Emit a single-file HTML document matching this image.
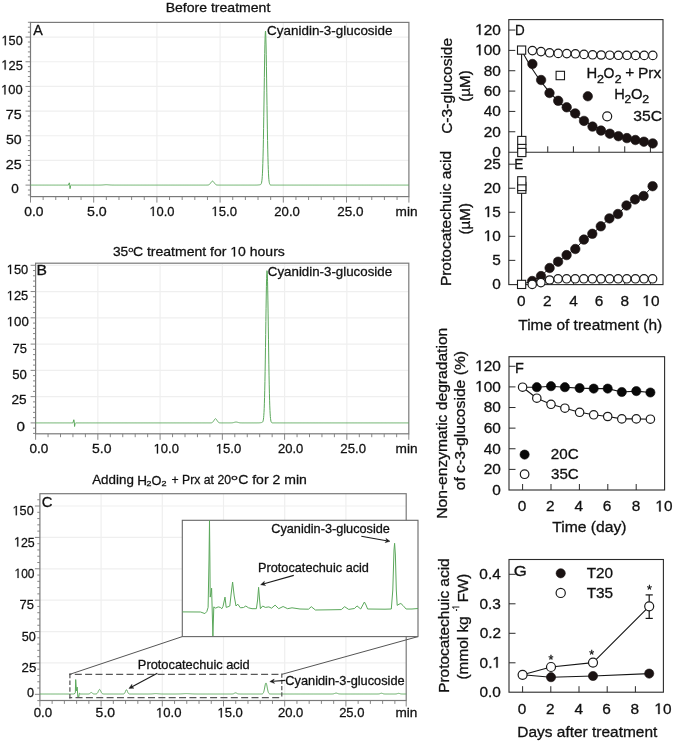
<!DOCTYPE html>
<html><head><meta charset="utf-8"><style>
html,body{margin:0;padding:0;background:#fff;}
svg{display:block;}
text{font-family:"Liberation Sans",sans-serif;stroke:#111;stroke-width:0.3px;}
.L text{stroke-width:0.28px;}
svg{will-change:transform;}
</style></head><body>
<svg width="675" height="743" viewBox="0 0 675 743">
<rect width="675" height="743" fill="#fff"/>
<g class="L">
<line x1="93.70" y1="22.40" x2="93.70" y2="196.60" stroke="#efefef" stroke-width="1.2"/>
<line x1="156.90" y1="22.40" x2="156.90" y2="196.60" stroke="#efefef" stroke-width="1.2"/>
<line x1="220.10" y1="22.40" x2="220.10" y2="196.60" stroke="#efefef" stroke-width="1.2"/>
<line x1="283.30" y1="22.40" x2="283.30" y2="196.60" stroke="#efefef" stroke-width="1.2"/>
<line x1="346.50" y1="22.40" x2="346.50" y2="196.60" stroke="#efefef" stroke-width="1.2"/>
<line x1="30.50" y1="160.43" x2="408.90" y2="160.43" stroke="#efefef" stroke-width="1.2"/>
<line x1="30.50" y1="135.76" x2="408.90" y2="135.76" stroke="#efefef" stroke-width="1.2"/>
<line x1="30.50" y1="111.10" x2="408.90" y2="111.10" stroke="#efefef" stroke-width="1.2"/>
<line x1="30.50" y1="86.43" x2="408.90" y2="86.43" stroke="#efefef" stroke-width="1.2"/>
<line x1="30.50" y1="61.76" x2="408.90" y2="61.76" stroke="#efefef" stroke-width="1.2"/>
<line x1="30.50" y1="37.09" x2="408.90" y2="37.09" stroke="#efefef" stroke-width="1.2"/>
<line x1="27.90" y1="194.97" x2="30.50" y2="194.97" stroke="#7a7a7a" stroke-width="0.9"/>
<line x1="27.90" y1="190.03" x2="30.50" y2="190.03" stroke="#7a7a7a" stroke-width="0.9"/>
<line x1="25.50" y1="185.10" x2="30.50" y2="185.10" stroke="#7a7a7a" stroke-width="0.9"/>
<line x1="27.90" y1="180.17" x2="30.50" y2="180.17" stroke="#7a7a7a" stroke-width="0.9"/>
<line x1="27.90" y1="175.23" x2="30.50" y2="175.23" stroke="#7a7a7a" stroke-width="0.9"/>
<line x1="27.90" y1="170.30" x2="30.50" y2="170.30" stroke="#7a7a7a" stroke-width="0.9"/>
<line x1="27.90" y1="165.37" x2="30.50" y2="165.37" stroke="#7a7a7a" stroke-width="0.9"/>
<line x1="25.50" y1="160.43" x2="30.50" y2="160.43" stroke="#7a7a7a" stroke-width="0.9"/>
<line x1="27.90" y1="155.50" x2="30.50" y2="155.50" stroke="#7a7a7a" stroke-width="0.9"/>
<line x1="27.90" y1="150.57" x2="30.50" y2="150.57" stroke="#7a7a7a" stroke-width="0.9"/>
<line x1="27.90" y1="145.63" x2="30.50" y2="145.63" stroke="#7a7a7a" stroke-width="0.9"/>
<line x1="27.90" y1="140.70" x2="30.50" y2="140.70" stroke="#7a7a7a" stroke-width="0.9"/>
<line x1="25.50" y1="135.76" x2="30.50" y2="135.76" stroke="#7a7a7a" stroke-width="0.9"/>
<line x1="27.90" y1="130.83" x2="30.50" y2="130.83" stroke="#7a7a7a" stroke-width="0.9"/>
<line x1="27.90" y1="125.90" x2="30.50" y2="125.90" stroke="#7a7a7a" stroke-width="0.9"/>
<line x1="27.90" y1="120.96" x2="30.50" y2="120.96" stroke="#7a7a7a" stroke-width="0.9"/>
<line x1="27.90" y1="116.03" x2="30.50" y2="116.03" stroke="#7a7a7a" stroke-width="0.9"/>
<line x1="25.50" y1="111.10" x2="30.50" y2="111.10" stroke="#7a7a7a" stroke-width="0.9"/>
<line x1="27.90" y1="106.16" x2="30.50" y2="106.16" stroke="#7a7a7a" stroke-width="0.9"/>
<line x1="27.90" y1="101.23" x2="30.50" y2="101.23" stroke="#7a7a7a" stroke-width="0.9"/>
<line x1="27.90" y1="96.30" x2="30.50" y2="96.30" stroke="#7a7a7a" stroke-width="0.9"/>
<line x1="27.90" y1="91.36" x2="30.50" y2="91.36" stroke="#7a7a7a" stroke-width="0.9"/>
<line x1="25.50" y1="86.43" x2="30.50" y2="86.43" stroke="#7a7a7a" stroke-width="0.9"/>
<line x1="27.90" y1="81.50" x2="30.50" y2="81.50" stroke="#7a7a7a" stroke-width="0.9"/>
<line x1="27.90" y1="76.56" x2="30.50" y2="76.56" stroke="#7a7a7a" stroke-width="0.9"/>
<line x1="27.90" y1="71.63" x2="30.50" y2="71.63" stroke="#7a7a7a" stroke-width="0.9"/>
<line x1="27.90" y1="66.70" x2="30.50" y2="66.70" stroke="#7a7a7a" stroke-width="0.9"/>
<line x1="25.50" y1="61.76" x2="30.50" y2="61.76" stroke="#7a7a7a" stroke-width="0.9"/>
<line x1="27.90" y1="56.83" x2="30.50" y2="56.83" stroke="#7a7a7a" stroke-width="0.9"/>
<line x1="27.90" y1="51.90" x2="30.50" y2="51.90" stroke="#7a7a7a" stroke-width="0.9"/>
<line x1="27.90" y1="46.96" x2="30.50" y2="46.96" stroke="#7a7a7a" stroke-width="0.9"/>
<line x1="27.90" y1="42.03" x2="30.50" y2="42.03" stroke="#7a7a7a" stroke-width="0.9"/>
<line x1="25.50" y1="37.09" x2="30.50" y2="37.09" stroke="#7a7a7a" stroke-width="0.9"/>
<line x1="27.90" y1="32.16" x2="30.50" y2="32.16" stroke="#7a7a7a" stroke-width="0.9"/>
<line x1="27.90" y1="27.23" x2="30.50" y2="27.23" stroke="#7a7a7a" stroke-width="0.9"/>
<line x1="27.90" y1="22.29" x2="30.50" y2="22.29" stroke="#7a7a7a" stroke-width="0.9"/>
<line x1="30.50" y1="196.60" x2="30.50" y2="202.60" stroke="#7a7a7a" stroke-width="0.9"/>
<line x1="43.14" y1="196.60" x2="43.14" y2="200.00" stroke="#7a7a7a" stroke-width="0.9"/>
<line x1="55.78" y1="196.60" x2="55.78" y2="200.00" stroke="#7a7a7a" stroke-width="0.9"/>
<line x1="68.42" y1="196.60" x2="68.42" y2="200.00" stroke="#7a7a7a" stroke-width="0.9"/>
<line x1="81.06" y1="196.60" x2="81.06" y2="200.00" stroke="#7a7a7a" stroke-width="0.9"/>
<line x1="93.70" y1="196.60" x2="93.70" y2="202.60" stroke="#7a7a7a" stroke-width="0.9"/>
<line x1="106.34" y1="196.60" x2="106.34" y2="200.00" stroke="#7a7a7a" stroke-width="0.9"/>
<line x1="118.98" y1="196.60" x2="118.98" y2="200.00" stroke="#7a7a7a" stroke-width="0.9"/>
<line x1="131.62" y1="196.60" x2="131.62" y2="200.00" stroke="#7a7a7a" stroke-width="0.9"/>
<line x1="144.26" y1="196.60" x2="144.26" y2="200.00" stroke="#7a7a7a" stroke-width="0.9"/>
<line x1="156.90" y1="196.60" x2="156.90" y2="202.60" stroke="#7a7a7a" stroke-width="0.9"/>
<line x1="169.54" y1="196.60" x2="169.54" y2="200.00" stroke="#7a7a7a" stroke-width="0.9"/>
<line x1="182.18" y1="196.60" x2="182.18" y2="200.00" stroke="#7a7a7a" stroke-width="0.9"/>
<line x1="194.82" y1="196.60" x2="194.82" y2="200.00" stroke="#7a7a7a" stroke-width="0.9"/>
<line x1="207.46" y1="196.60" x2="207.46" y2="200.00" stroke="#7a7a7a" stroke-width="0.9"/>
<line x1="220.10" y1="196.60" x2="220.10" y2="202.60" stroke="#7a7a7a" stroke-width="0.9"/>
<line x1="232.74" y1="196.60" x2="232.74" y2="200.00" stroke="#7a7a7a" stroke-width="0.9"/>
<line x1="245.38" y1="196.60" x2="245.38" y2="200.00" stroke="#7a7a7a" stroke-width="0.9"/>
<line x1="258.02" y1="196.60" x2="258.02" y2="200.00" stroke="#7a7a7a" stroke-width="0.9"/>
<line x1="270.66" y1="196.60" x2="270.66" y2="200.00" stroke="#7a7a7a" stroke-width="0.9"/>
<line x1="283.30" y1="196.60" x2="283.30" y2="202.60" stroke="#7a7a7a" stroke-width="0.9"/>
<line x1="295.94" y1="196.60" x2="295.94" y2="200.00" stroke="#7a7a7a" stroke-width="0.9"/>
<line x1="308.58" y1="196.60" x2="308.58" y2="200.00" stroke="#7a7a7a" stroke-width="0.9"/>
<line x1="321.22" y1="196.60" x2="321.22" y2="200.00" stroke="#7a7a7a" stroke-width="0.9"/>
<line x1="333.86" y1="196.60" x2="333.86" y2="200.00" stroke="#7a7a7a" stroke-width="0.9"/>
<line x1="346.50" y1="196.60" x2="346.50" y2="202.60" stroke="#7a7a7a" stroke-width="0.9"/>
<line x1="359.14" y1="196.60" x2="359.14" y2="200.00" stroke="#7a7a7a" stroke-width="0.9"/>
<line x1="371.78" y1="196.60" x2="371.78" y2="200.00" stroke="#7a7a7a" stroke-width="0.9"/>
<line x1="384.42" y1="196.60" x2="384.42" y2="200.00" stroke="#7a7a7a" stroke-width="0.9"/>
<line x1="397.06" y1="196.60" x2="397.06" y2="200.00" stroke="#7a7a7a" stroke-width="0.9"/>
<line x1="408.90" y1="196.60" x2="408.90" y2="202.60" stroke="#7a7a7a" stroke-width="0.9"/>
<rect x="30.50" y="22.40" width="378.40" height="174.20" stroke="#7a7a7a" stroke-width="1.2" fill="none"/>
<polyline points="30.50,185.10 30.69,185.10 30.88,185.10 31.07,185.10 31.26,185.10 31.45,185.10 31.64,185.10 31.82,185.10 32.01,185.10 32.20,185.10 32.39,185.10 32.58,185.10 32.77,185.10 32.96,185.10 33.15,185.10 33.34,185.10 33.53,185.10 33.72,185.10 33.91,185.10 34.09,185.10 34.28,185.10 34.47,185.10 34.66,185.10 34.85,185.10 35.04,185.10 35.23,185.10 35.42,185.10 35.61,185.10 35.80,185.10 35.99,185.10 36.18,185.10 36.37,185.10 36.55,185.10 36.74,185.10 36.93,185.10 37.12,185.10 37.31,185.10 37.50,185.10 37.69,185.10 37.88,185.10 38.07,185.10 38.26,185.10 38.45,185.10 38.64,185.10 38.82,185.10 39.01,185.10 39.20,185.10 39.39,185.10 39.58,185.10 39.77,185.10 39.96,185.10 40.15,185.10 40.34,185.10 40.53,185.10 40.72,185.10 40.91,185.10 41.10,185.10 41.28,185.10 41.47,185.10 41.66,185.10 41.85,185.10 42.04,185.10 42.23,185.10 42.42,185.10 42.61,185.10 42.80,185.10 42.99,185.10 43.18,185.10 43.37,185.10 43.55,185.10 43.74,185.10 43.93,185.10 44.12,185.10 44.31,185.10 44.50,185.10 44.69,185.10 44.88,185.10 45.07,185.10 45.26,185.10 45.45,185.10 45.64,185.10 45.83,185.10 46.01,185.10 46.20,185.10 46.39,185.10 46.58,185.10 46.77,185.10 46.96,185.10 47.15,185.10 47.34,185.10 47.53,185.10 47.72,185.10 47.91,185.10 48.10,185.10 48.28,185.10 48.47,185.10 48.66,185.10 48.85,185.10 49.04,185.10 49.23,185.10 49.42,185.10 49.61,185.10 49.80,185.10 49.99,185.10 50.18,185.10 50.37,185.10 50.56,185.10 50.74,185.10 50.93,185.10 51.12,185.10 51.31,185.10 51.50,185.10 51.69,185.10 51.88,185.10 52.07,185.10 52.26,185.10 52.45,185.10 52.64,185.10 52.83,185.10 53.01,185.10 53.20,185.10 53.39,185.10 53.58,185.10 53.77,185.10 53.96,185.10 54.15,185.10 54.34,185.10 54.53,185.10 54.72,185.10 54.91,185.10 55.10,185.10 55.29,185.10 55.47,185.10 55.66,185.10 55.85,185.10 56.04,185.10 56.23,185.10 56.42,185.10 56.61,185.10 56.80,185.10 56.99,185.10 57.18,185.10 57.37,185.10 57.56,185.10 57.74,185.10 57.93,185.10 58.12,185.10 58.31,185.10 58.50,185.10 58.69,185.10 58.88,185.10 59.07,185.10 59.26,185.10 59.45,185.10 59.64,185.10 59.83,185.10 60.02,185.10 60.20,185.10 60.39,185.10 60.58,185.10 60.77,185.10 60.96,185.10 61.15,185.10 61.34,185.10 61.53,185.10 61.72,185.10 61.91,185.10 62.10,185.10 62.29,185.10 62.47,185.10 62.66,185.10 62.85,185.10 63.04,185.10 63.23,185.10 63.42,185.10 63.61,185.10 63.80,185.10 63.99,185.10 64.18,185.10 64.37,185.10 64.56,185.10 64.75,185.10 64.93,185.10 65.12,185.10 65.31,185.10 65.50,185.10 65.69,185.10 65.88,185.10 66.07,185.10 66.26,185.10 66.45,185.10 66.64,185.10 66.83,185.10 67.02,185.10 67.20,185.10 67.39,185.10 67.58,185.10 67.77,185.10 67.96,185.10 68.15,185.10 68.34,185.10 68.42,185.10 69.30,182.83 69.68,183.92 70.06,188.65 70.57,185.69 71.20,185.10 71.37,185.10 71.56,185.10 71.75,185.10 71.93,185.10 72.12,185.10 72.31,185.10 72.50,185.10 72.69,185.10 72.88,185.10 73.07,185.10 73.26,185.10 73.45,185.10 73.64,185.10 73.83,185.10 74.02,185.10 74.21,185.10 74.39,185.10 74.58,185.10 74.77,185.10 74.96,185.10 75.15,185.10 75.34,185.10 75.53,185.10 75.72,185.10 75.91,185.10 76.10,185.10 76.29,185.10 76.48,185.10 76.66,185.10 76.85,185.10 77.04,185.10 77.23,185.10 77.42,185.10 77.61,185.10 77.80,185.10 77.99,185.10 78.18,185.10 78.37,185.10 78.56,185.10 78.75,185.10 78.94,185.10 79.12,185.10 79.31,185.10 79.50,185.10 79.69,185.10 79.88,185.10 80.07,185.10 80.26,185.10 80.45,185.10 80.64,185.10 80.83,185.10 81.02,185.10 81.21,185.10 81.39,185.10 81.58,185.10 81.77,185.10 81.96,185.10 82.15,185.10 82.34,185.10 82.53,185.10 82.72,185.10 82.91,185.10 83.10,185.10 83.29,185.10 83.48,185.10 83.67,185.10 83.85,185.10 84.04,185.10 84.23,185.10 84.42,185.10 84.61,185.10 84.80,185.10 84.99,185.10 85.18,185.10 85.37,185.10 85.56,185.10 85.75,185.10 85.94,185.10 86.12,185.10 86.31,185.10 86.50,185.10 86.69,185.10 86.88,185.10 87.07,185.10 87.26,185.10 87.45,185.10 87.64,185.10 87.83,185.10 88.02,185.10 88.21,185.10 88.40,185.10 88.58,185.10 88.77,185.10 88.96,185.10 89.15,185.10 89.34,185.10 89.53,185.10 89.72,185.10 89.91,185.10 90.10,185.10 90.29,185.10 90.48,185.10 90.67,185.10 90.85,185.10 91.04,185.10 91.23,185.10 91.42,185.10 91.61,185.10 91.80,185.10 91.99,185.10 92.18,185.10 92.37,185.10 92.56,185.10 92.75,185.10 92.94,185.10 93.13,185.10 93.31,185.10 93.50,185.10 93.69,185.10 93.88,185.10 94.07,185.10 94.26,185.10 94.45,185.10 94.64,185.10 94.83,185.10 95.02,185.10 95.21,185.10 95.40,185.10 95.58,185.10 95.77,185.10 95.96,185.10 96.15,185.10 96.34,185.10 96.53,185.10 96.72,185.10 96.91,185.10 97.10,185.10 97.29,185.10 97.48,185.10 97.67,185.10 97.86,185.10 98.04,185.10 98.23,185.10 98.42,185.10 98.61,185.10 98.80,185.10 98.99,185.09 99.18,185.09 99.37,185.09 99.56,185.09 99.75,185.09 99.94,185.08 100.13,185.08 100.31,185.08 100.50,185.07 100.69,185.07 100.88,185.06 101.07,185.06 101.26,185.05 101.45,185.04 101.64,185.03 101.83,185.02 102.02,185.01 102.21,185.00 102.40,184.98 102.59,184.97 102.77,184.95 102.96,184.94 103.15,184.92 103.34,184.90 103.53,184.89 103.72,184.87 103.91,184.85 104.10,184.83 104.29,184.82 104.48,184.80 104.67,184.78 104.86,184.77 105.04,184.75 105.23,184.74 105.42,184.73 105.61,184.72 105.80,184.71 105.99,184.71 106.18,184.71 106.37,184.71 106.56,184.71 106.75,184.71 106.94,184.72 107.13,184.72 107.32,184.73 107.50,184.75 107.69,184.76 107.88,184.77 108.07,184.79 108.26,184.80 108.45,184.82 108.64,184.84 108.83,184.86 109.02,184.87 109.21,184.89 109.40,184.91 109.59,184.93 109.77,184.94 109.96,184.96 110.15,184.97 110.34,184.99 110.53,185.00 110.72,185.01 110.91,185.02 111.10,185.03 111.29,185.04 111.48,185.05 111.67,185.06 111.86,185.06 112.05,185.07 112.23,185.07 112.42,185.08 112.61,185.08 112.80,185.08 112.99,185.09 113.18,185.09 113.37,185.09 113.56,185.09 113.75,185.09 113.94,185.10 114.13,185.10 114.32,185.10 114.50,185.10 114.69,185.10 114.88,185.10 115.07,185.10 115.26,185.10 115.45,185.10 115.64,185.10 115.83,185.10 116.02,185.10 116.21,185.10 116.40,185.10 116.59,185.10 116.78,185.10 116.96,185.10 117.15,185.10 117.34,185.10 117.53,185.10 117.72,185.10 117.91,185.10 118.10,185.10 118.29,185.10 118.48,185.10 118.67,185.10 118.86,185.10 119.05,185.10 119.23,185.10 119.42,185.10 119.61,185.10 119.80,185.10 119.99,185.10 120.18,185.10 120.37,185.10 120.56,185.10 120.75,185.10 120.94,185.10 121.13,185.10 121.32,185.10 121.51,185.10 121.69,185.10 121.88,185.10 122.07,185.10 122.26,185.10 122.45,185.10 122.64,185.10 122.83,185.10 123.02,185.10 123.21,185.10 123.40,185.10 123.59,185.10 123.78,185.10 123.96,185.10 124.15,185.10 124.34,185.10 124.53,185.10 124.72,185.10 124.91,185.10 125.10,185.10 125.29,185.10 125.48,185.10 125.67,185.10 125.86,185.10 126.05,185.10 126.24,185.10 126.42,185.10 126.61,185.10 126.80,185.10 126.99,185.10 127.18,185.10 127.37,185.10 127.56,185.10 127.75,185.10 127.94,185.10 128.13,185.10 128.32,185.10 128.51,185.10 128.69,185.10 128.88,185.10 129.07,185.10 129.26,185.10 129.45,185.10 129.64,185.10 129.83,185.10 130.02,185.10 130.21,185.10 130.40,185.10 130.59,185.10 130.78,185.10 130.97,185.10 131.15,185.10 131.34,185.10 131.53,185.10 131.72,185.10 131.91,185.10 132.10,185.10 132.29,185.10 132.48,185.10 132.67,185.10 132.86,185.10 133.05,185.10 133.24,185.10 133.42,185.10 133.61,185.10 133.80,185.10 133.99,185.10 134.18,185.10 134.37,185.10 134.56,185.10 134.75,185.10 134.94,185.10 135.13,185.10 135.32,185.10 135.51,185.10 135.70,185.10 135.88,185.10 136.07,185.10 136.26,185.10 136.45,185.10 136.64,185.10 136.83,185.10 137.02,185.10 137.21,185.10 137.40,185.10 137.59,185.10 137.78,185.10 137.97,185.10 138.15,185.10 138.34,185.10 138.53,185.10 138.72,185.10 138.91,185.10 139.10,185.10 139.29,185.10 139.48,185.10 139.67,185.10 139.86,185.10 140.05,185.10 140.24,185.10 140.43,185.10 140.61,185.10 140.80,185.10 140.99,185.10 141.18,185.10 141.37,185.10 141.56,185.10 141.75,185.10 141.94,185.10 142.13,185.10 142.32,185.10 142.51,185.10 142.70,185.10 142.88,185.10 143.07,185.10 143.26,185.10 143.45,185.10 143.64,185.10 143.83,185.10 144.02,185.10 144.21,185.10 144.40,185.10 144.59,185.10 144.78,185.10 144.97,185.10 145.16,185.10 145.34,185.10 145.53,185.10 145.72,185.10 145.91,185.10 146.10,185.10 146.29,185.10 146.48,185.10 146.67,185.10 146.86,185.10 147.05,185.10 147.24,185.10 147.43,185.10 147.61,185.10 147.80,185.10 147.99,185.10 148.18,185.10 148.37,185.10 148.56,185.10 148.75,185.10 148.94,185.10 149.13,185.10 149.32,185.10 149.51,185.10 149.70,185.10 149.89,185.10 150.07,185.10 150.26,185.10 150.45,185.10 150.64,185.10 150.83,185.10 151.02,185.10 151.21,185.10 151.40,185.10 151.59,185.10 151.78,185.10 151.97,185.10 152.16,185.10 152.34,185.10 152.53,185.10 152.72,185.10 152.91,185.10 153.10,185.10 153.29,185.10 153.48,185.10 153.67,185.10 153.86,185.10 154.05,185.10 154.24,185.10 154.43,185.10 154.62,185.10 154.80,185.10 154.99,185.10 155.18,185.10 155.37,185.10 155.56,185.10 155.75,185.10 155.94,185.10 156.13,185.10 156.32,185.10 156.51,185.10 156.70,185.10 156.89,185.10 157.07,185.10 157.26,185.10 157.45,185.10 157.64,185.10 157.83,185.10 158.02,185.10 158.21,185.10 158.40,185.10 158.59,185.10 158.78,185.10 158.97,185.10 159.16,185.10 159.35,185.10 159.53,185.10 159.72,185.10 159.91,185.10 160.10,185.10 160.29,185.10 160.48,185.10 160.67,185.10 160.86,185.10 161.05,185.10 161.24,185.10 161.43,185.10 161.62,185.10 161.80,185.10 161.99,185.10 162.18,185.10 162.37,185.10 162.56,185.10 162.75,185.10 162.94,185.10 163.13,185.10 163.32,185.10 163.51,185.10 163.70,185.10 163.89,185.10 164.08,185.10 164.26,185.10 164.45,185.10 164.64,185.10 164.83,185.10 165.02,185.10 165.21,185.10 165.40,185.10 165.59,185.10 165.78,185.10 165.97,185.10 166.16,185.10 166.35,185.10 166.53,185.10 166.72,185.10 166.91,185.10 167.10,185.10 167.29,185.10 167.48,185.10 167.67,185.10 167.86,185.10 168.05,185.10 168.24,185.10 168.43,185.10 168.62,185.10 168.81,185.10 168.99,185.10 169.18,185.10 169.37,185.10 169.56,185.10 169.75,185.10 169.94,185.10 170.13,185.10 170.32,185.10 170.51,185.10 170.70,185.10 170.89,185.10 171.08,185.10 171.26,185.10 171.45,185.10 171.64,185.10 171.83,185.10 172.02,185.10 172.21,185.10 172.40,185.10 172.59,185.10 172.78,185.10 172.97,185.10 173.16,185.10 173.35,185.10 173.54,185.10 173.72,185.10 173.91,185.10 174.10,185.10 174.29,185.10 174.48,185.10 174.67,185.10 174.86,185.10 175.05,185.10 175.24,185.10 175.43,185.10 175.62,185.10 175.81,185.10 175.99,185.10 176.18,185.10 176.37,185.10 176.56,185.10 176.75,185.10 176.94,185.10 177.13,185.10 177.32,185.10 177.51,185.10 177.70,185.10 177.89,185.10 178.08,185.10 178.27,185.10 178.45,185.10 178.64,185.10 178.83,185.10 179.02,185.10 179.21,185.10 179.40,185.10 179.59,185.10 179.78,185.10 179.97,185.10 180.16,185.10 180.35,185.10 180.54,185.10 180.72,185.10 180.91,185.10 181.10,185.10 181.29,185.10 181.48,185.10 181.67,185.10 181.86,185.10 182.05,185.10 182.24,185.10 182.43,185.10 182.62,185.10 182.81,185.10 183.00,185.10 183.18,185.10 183.37,185.10 183.56,185.10 183.75,185.10 183.94,185.10 184.13,185.10 184.32,185.10 184.51,185.10 184.70,185.10 184.89,185.10 185.08,185.10 185.27,185.10 185.45,185.10 185.64,185.10 185.83,185.10 186.02,185.10 186.21,185.10 186.40,185.10 186.59,185.10 186.78,185.10 186.97,185.10 187.16,185.10 187.35,185.10 187.54,185.10 187.73,185.10 187.91,185.10 188.10,185.10 188.29,185.10 188.48,185.10 188.67,185.10 188.86,185.10 189.05,185.10 189.24,185.10 189.43,185.10 189.62,185.10 189.81,185.10 190.00,185.10 190.18,185.10 190.37,185.10 190.56,185.10 190.75,185.10 190.94,185.10 191.13,185.10 191.32,185.10 191.51,185.10 191.70,185.10 191.89,185.10 192.08,185.10 192.27,185.10 192.46,185.10 192.64,185.10 192.83,185.10 193.02,185.10 193.21,185.10 193.40,185.10 193.59,185.10 193.78,185.10 193.97,185.10 194.16,185.10 194.35,185.10 194.54,185.10 194.73,185.10 194.91,185.10 195.10,185.10 195.29,185.10 195.48,185.10 195.67,185.10 195.86,185.10 196.05,185.10 196.24,185.10 196.43,185.10 196.62,185.10 196.81,185.10 197.00,185.10 197.19,185.10 197.37,185.10 197.56,185.10 197.75,185.10 197.94,185.10 198.13,185.10 198.32,185.10 198.51,185.10 198.70,185.10 198.89,185.10 199.08,185.10 199.27,185.10 199.46,185.10 199.64,185.10 199.83,185.10 200.02,185.10 200.21,185.10 200.40,185.10 200.59,185.10 200.78,185.10 200.97,185.10 201.16,185.10 201.35,185.10 201.54,185.10 201.73,185.10 201.92,185.10 202.10,185.10 202.29,185.10 202.48,185.10 202.67,185.10 202.86,185.10 203.05,185.10 203.24,185.10 203.43,185.10 203.62,185.10 203.81,185.10 204.00,185.10 204.19,185.10 204.37,185.10 204.56,185.10 204.75,185.10 204.94,185.10 205.13,185.10 205.32,185.10 205.51,185.10 205.70,185.10 205.89,185.10 206.08,185.10 206.27,185.10 206.46,185.10 206.65,185.09 206.83,185.09 207.02,185.09 207.21,185.08 207.40,185.07 207.59,185.06 207.78,185.04 207.97,185.01 208.16,184.98 208.35,184.94 208.54,184.89 208.73,184.82 208.92,184.74 209.10,184.64 209.29,184.52 209.48,184.38 209.67,184.22 209.86,184.03 210.05,183.82 210.24,183.59 210.43,183.34 210.62,183.07 210.81,182.80 211.00,182.53 211.19,182.26 211.38,182.00 211.56,181.76 211.75,181.56 211.94,181.39 212.13,181.26 212.32,181.18 212.51,181.15 212.70,181.18 212.89,181.25 213.08,181.38 213.27,181.54 213.46,181.75 213.65,181.98 213.83,182.24 214.02,182.51 214.21,182.78 214.40,183.06 214.59,183.32 214.78,183.57 214.97,183.81 215.16,184.02 215.35,184.21 215.54,184.37 215.73,184.51 215.92,184.64 216.11,184.74 216.29,184.82 216.48,184.89 216.67,184.94 216.86,184.98 217.05,185.01 217.24,185.04 217.43,185.05 217.62,185.07 217.81,185.08 218.00,185.08 218.19,185.09 218.38,185.09 218.56,185.10 218.75,185.10 218.94,185.10 219.13,185.10 219.32,185.10 219.51,185.10 219.70,185.10 219.89,185.10 220.08,185.10 220.27,185.10 220.46,185.10 220.65,185.10 220.84,185.10 221.02,185.10 221.21,185.10 221.40,185.10 221.59,185.10 221.78,185.10 221.97,185.10 222.16,185.10 222.35,185.10 222.54,185.10 222.73,185.10 222.92,185.10 223.11,185.10 223.29,185.10 223.48,185.10 223.67,185.10 223.86,185.10 224.05,185.10 224.24,185.10 224.43,185.10 224.62,185.10 224.81,185.10 225.00,185.10 225.19,185.10 225.38,185.10 225.57,185.10 225.75,185.10 225.94,185.10 226.13,185.10 226.32,185.10 226.51,185.10 226.70,185.10 226.89,185.10 227.08,185.10 227.27,185.10 227.46,185.10 227.65,185.10 227.84,185.10 228.02,185.10 228.21,185.10 228.40,185.10 228.59,185.10 228.78,185.10 228.97,185.10 229.16,185.10 229.35,185.10 229.54,185.10 229.73,185.10 229.92,185.10 230.11,185.10 230.30,185.10 230.48,185.10 230.67,185.10 230.86,185.10 231.05,185.10 231.24,185.10 231.43,185.10 231.62,185.10 231.81,185.10 232.00,185.10 232.19,185.10 232.38,185.10 232.57,185.10 232.75,185.10 232.94,185.10 233.13,185.10 233.32,185.10 233.51,185.10 233.70,185.10 233.89,185.10 234.08,185.10 234.27,185.10 234.46,185.10 234.65,185.10 234.84,185.10 235.03,185.10 235.21,185.10 235.40,185.10 235.59,185.10 235.78,185.10 235.97,185.10 236.16,185.10 236.35,185.10 236.54,185.10 236.73,185.10 236.92,185.10 237.11,185.10 237.30,185.10 237.48,185.10 237.67,185.10 237.86,185.10 238.05,185.10 238.24,185.10 238.43,185.10 238.62,185.10 238.81,185.10 239.00,185.10 239.19,185.10 239.38,185.10 239.57,185.10 239.76,185.10 239.94,185.10 240.13,185.10 240.32,185.10 240.51,185.10 240.70,185.10 240.89,185.10 241.08,185.10 241.27,185.10 241.46,185.10 241.65,185.10 241.84,185.10 242.03,185.10 242.21,185.10 242.40,185.10 242.59,185.10 242.78,185.10 242.97,185.10 243.16,185.10 243.35,185.10 243.54,185.10 243.73,185.10 243.92,185.10 244.11,185.10 244.30,185.10 244.49,185.10 244.67,185.10 244.86,185.10 245.05,185.10 245.24,185.10 245.43,185.10 245.62,185.10 245.81,185.10 246.00,185.10 246.19,185.10 246.38,185.10 246.57,185.10 246.76,185.10 246.94,185.10 247.13,185.10 247.32,185.10 247.51,185.10 247.70,185.10 247.89,185.10 248.08,185.10 248.27,185.10 248.46,185.10 248.65,185.10 248.84,185.10 249.03,185.10 249.22,185.10 249.40,185.10 249.59,185.10 249.78,185.10 249.97,185.10 250.16,185.10 250.35,185.10 250.54,185.10 250.73,185.10 250.92,185.10 251.11,185.10 251.30,185.10 251.49,185.10 251.67,185.10 251.86,185.10 252.05,185.10 252.24,185.10 252.43,185.10 252.62,185.10 252.81,185.10 253.00,185.10 253.19,185.10 253.38,185.10 253.57,185.10 253.76,185.10 253.95,185.10 254.13,185.10 254.32,185.10 254.51,185.10 254.70,185.10 254.89,185.10 255.08,185.10 255.27,185.10 255.46,185.10 255.65,185.09 255.84,185.09 256.03,185.09 256.22,185.09 256.40,185.08 256.59,185.08 256.78,185.07 256.97,185.07 257.16,185.06 257.35,185.05 257.54,185.04 257.73,185.02 257.92,185.01 258.11,184.99 258.30,184.98 258.49,184.96 258.68,184.93 258.86,184.91 259.05,184.89 259.24,184.86 259.43,184.84 259.62,184.81 259.81,184.78 260.00,184.74 260.19,184.70 260.38,184.64 260.57,184.56 260.76,184.44 260.95,184.26 261.13,183.98 261.32,183.56 261.51,182.93 261.70,182.03 261.89,180.73 262.08,178.93 262.27,176.47 262.46,173.19 262.65,168.94 262.84,163.54 263.03,156.87 263.22,148.84 263.41,139.42 263.59,128.68 263.78,116.78 263.97,104.03 264.16,90.81 264.35,77.63 264.54,65.06 264.73,53.71 264.92,44.17 265.11,36.98 265.30,32.55 265.49,31.15 265.68,32.85 265.86,37.57 266.05,45.01 266.24,54.76 266.43,66.26 266.62,78.93 266.81,92.16 267.00,105.37 267.19,118.08 267.38,129.90 267.57,140.55 267.76,149.87 267.95,157.80 268.14,164.37 268.32,169.67 268.51,173.85 268.70,177.06 268.89,179.47 269.08,181.24 269.27,182.51 269.46,183.39 269.65,184.00 269.84,184.40 270.03,184.67 270.22,184.84 270.41,184.94 270.59,185.01 270.78,185.05 270.97,185.07 271.16,185.08 271.35,185.09 271.54,185.10 271.73,185.10 271.92,185.10 272.11,185.10 272.30,185.10 272.49,185.10 272.68,185.10 272.87,185.10 273.05,185.10 273.24,185.10 273.43,185.10 273.62,185.10 273.81,185.10 274.00,185.10 274.19,185.10 274.38,185.10 274.57,185.10 274.76,185.10 274.95,185.10 275.14,185.10 275.32,185.10 275.51,185.10 275.70,185.10 275.89,185.10 276.08,185.10 276.27,185.10 276.46,185.10 276.65,185.10 276.84,185.10 277.03,185.10 277.22,185.10 277.41,185.10 277.60,185.10 277.78,185.10 277.97,185.10 278.16,185.10 278.35,185.10 278.54,185.10 278.73,185.10 278.92,185.10 279.11,185.10 279.30,185.10 279.49,185.10 279.68,185.10 279.87,185.10 280.05,185.10 280.24,185.10 280.43,185.10 280.62,185.10 280.81,185.10 281.00,185.10 281.19,185.10 281.38,185.10 281.57,185.10 281.76,185.10 281.95,185.10 282.14,185.10 282.33,185.10 282.51,185.10 282.70,185.10 282.89,185.10 283.08,185.10 283.27,185.10 283.46,185.10 283.65,185.10 283.84,185.10 284.03,185.10 284.22,185.10 284.41,185.10 284.60,185.10 284.78,185.10 284.97,185.10 285.16,185.10 285.35,185.10 285.54,185.10 285.73,185.10 285.92,185.10 286.11,185.10 286.30,185.10 286.49,185.10 286.68,185.10 286.87,185.10 287.06,185.10 287.24,185.10 287.43,185.10 287.62,185.10 287.81,185.10 288.00,185.10 288.19,185.10 288.38,185.10 288.57,185.10 288.76,185.10 288.95,185.10 289.14,185.10 289.33,185.10 289.51,185.10 289.70,185.10 289.89,185.10 290.08,185.10 290.27,185.10 290.46,185.10 290.65,185.10 290.84,185.10 291.03,185.10 291.22,185.10 291.41,185.10 291.60,185.10 291.79,185.10 291.97,185.10 292.16,185.10 292.35,185.10 292.54,185.10 292.73,185.10 292.92,185.10 293.11,185.10 293.30,185.10 293.49,185.10 293.68,185.10 293.87,185.10 294.06,185.10 294.24,185.10 294.43,185.10 294.62,185.10 294.81,185.10 295.00,185.10 295.19,185.10 295.38,185.10 295.57,185.10 295.76,185.10 295.95,185.10 296.14,185.10 296.33,185.10 296.52,185.10 296.70,185.10 296.89,185.10 297.08,185.10 297.27,185.10 297.46,185.10 297.65,185.10 297.84,185.10 298.03,185.10 298.22,185.10 298.41,185.10 298.60,185.10 298.79,185.10 298.97,185.10 299.16,185.10 299.35,185.10 299.54,185.10 299.73,185.10 299.92,185.10 300.11,185.10 300.30,185.10 300.49,185.10 300.68,185.10 300.87,185.10 301.06,185.10 301.25,185.10 301.43,185.10 301.62,185.10 301.81,185.10 302.00,185.10 302.19,185.10 302.38,185.10 302.57,185.10 302.76,185.10 302.95,185.10 303.14,185.10 303.33,185.10 303.52,185.10 303.70,185.10 303.89,185.10 304.08,185.10 304.27,185.10 304.46,185.10 304.65,185.10 304.84,185.10 305.03,185.10 305.22,185.10 305.41,185.10 305.60,185.10 305.79,185.10 305.98,185.10 306.16,185.10 306.35,185.10 306.54,185.10 306.73,185.10 306.92,185.10 307.11,185.10 307.30,185.10 307.49,185.10 307.68,185.10 307.87,185.10 308.06,185.10 308.25,185.10 308.43,185.10 308.62,185.10 308.81,185.10 309.00,185.10 309.19,185.10 309.38,185.10 309.57,185.10 309.76,185.10 309.95,185.10 310.14,185.10 310.33,185.10 310.52,185.10 310.71,185.10 310.89,185.10 311.08,185.10 311.27,185.10 311.46,185.10 311.65,185.10 311.84,185.10 312.03,185.10 312.22,185.10 312.41,185.10 312.60,185.10 312.79,185.10 312.98,185.10 313.16,185.10 313.35,185.10 313.54,185.10 313.73,185.10 313.92,185.10 314.11,185.10 314.30,185.10 314.49,185.10 314.68,185.10 314.87,185.10 315.06,185.10 315.25,185.10 315.44,185.10 315.62,185.10 315.81,185.10 316.00,185.10 316.19,185.10 316.38,185.10 316.57,185.10 316.76,185.10 316.95,185.10 317.14,185.10 317.33,185.10 317.52,185.10 317.71,185.10 317.89,185.10 318.08,185.10 318.27,185.10 318.46,185.10 318.65,185.10 318.84,185.10 319.03,185.10 319.22,185.10 319.41,185.10 319.60,185.10 319.79,185.10 319.98,185.10 320.17,185.10 320.35,185.10 320.54,185.10 320.73,185.10 320.92,185.10 321.11,185.10 321.30,185.10 321.49,185.10 321.68,185.10 321.87,185.10 322.06,185.10 322.25,185.10 322.44,185.10 322.62,185.10 322.81,185.10 323.00,185.10 323.19,185.10 323.38,185.10 323.57,185.10 323.76,185.10 323.95,185.10 324.14,185.10 324.33,185.10 324.52,185.10 324.71,185.10 324.90,185.10 325.08,185.10 325.27,185.10 325.46,185.10 325.65,185.10 325.84,185.10 326.03,185.10 326.22,185.10 326.41,185.10 326.60,185.10 326.79,185.10 326.98,185.10 327.17,185.10 327.35,185.10 327.54,185.10 327.73,185.10 327.92,185.10 328.11,185.10 328.30,185.10 328.49,185.10 328.68,185.10 328.87,185.10 329.06,185.10 329.25,185.10 329.44,185.10 329.63,185.10 329.81,185.10 330.00,185.10 330.19,185.10 330.38,185.10 330.57,185.10 330.76,185.10 330.95,185.10 331.14,185.10 331.33,185.10 331.52,185.10 331.71,185.10 331.90,185.10 332.08,185.10 332.27,185.10 332.46,185.10 332.65,185.10 332.84,185.10 333.03,185.10 333.22,185.10 333.41,185.10 333.60,185.10 333.79,185.10 333.98,185.10 334.17,185.10 334.36,185.10 334.54,185.10 334.73,185.10 334.92,185.10 335.11,185.10 335.30,185.10 335.49,185.10 335.68,185.10 335.87,185.10 336.06,185.10 336.25,185.10 336.44,185.10 336.63,185.10 336.81,185.10 337.00,185.10 337.19,185.10 337.38,185.10 337.57,185.10 337.76,185.10 337.95,185.10 338.14,185.10 338.33,185.10 338.52,185.10 338.71,185.10 338.90,185.10 339.09,185.10 339.27,185.10 339.46,185.10 339.65,185.10 339.84,185.10 340.03,185.10 340.22,185.10 340.41,185.10 340.60,185.10 340.79,185.10 340.98,185.10 341.17,185.10 341.36,185.10 341.54,185.10 341.73,185.10 341.92,185.10 342.11,185.10 342.30,185.10 342.49,185.10 342.68,185.10 342.87,185.10 343.06,185.10 343.25,185.10 343.44,185.10 343.63,185.10 343.82,185.10 344.00,185.10 344.19,185.10 344.38,185.10 344.57,185.10 344.76,185.10 344.95,185.10 345.14,185.10 345.33,185.10 345.52,185.10 345.71,185.10 345.90,185.10 346.09,185.10 346.27,185.10 346.46,185.10 346.65,185.10 346.84,185.10 347.03,185.10 347.22,185.10 347.41,185.10 347.60,185.10 347.79,185.10 347.98,185.10 348.17,185.10 348.36,185.10 348.55,185.10 348.73,185.10 348.92,185.10 349.11,185.10 349.30,185.10 349.49,185.10 349.68,185.10 349.87,185.10 350.06,185.10 350.25,185.10 350.44,185.10 350.63,185.10 350.82,185.10 351.00,185.10 351.19,185.10 351.38,185.10 351.57,185.10 351.76,185.10 351.95,185.10 352.14,185.10 352.33,185.10 352.52,185.10 352.71,185.10 352.90,185.10 353.09,185.10 353.28,185.10 353.46,185.10 353.65,185.10 353.84,185.10 354.03,185.10 354.22,185.10 354.41,185.10 354.60,185.10 354.79,185.10 354.98,185.10 355.17,185.10 355.36,185.10 355.55,185.10 355.73,185.10 355.92,185.10 356.11,185.10 356.30,185.10 356.49,185.10 356.68,185.10 356.87,185.10 357.06,185.10 357.25,185.10 357.44,185.10 357.63,185.10 357.82,185.10 358.01,185.10 358.19,185.10 358.38,185.10 358.57,185.10 358.76,185.10 358.95,185.10 359.14,185.10 359.33,185.10 359.52,185.10 359.71,185.10 359.90,185.10 360.09,185.10 360.28,185.10 360.46,185.10 360.65,185.10 360.84,185.10 361.03,185.10 361.22,185.10 361.41,185.10 361.60,185.10 361.79,185.10 361.98,185.10 362.17,185.10 362.36,185.10 362.55,185.10 362.74,185.10 362.92,185.10 363.11,185.10 363.30,185.10 363.49,185.10 363.68,185.10 363.87,185.10 364.06,185.10 364.25,185.10 364.44,185.10 364.63,185.10 364.82,185.10 365.01,185.10 365.19,185.10 365.38,185.10 365.57,185.10 365.76,185.10 365.95,185.10 366.14,185.10 366.33,185.10 366.52,185.10 366.71,185.10 366.90,185.10 367.09,185.10 367.28,185.10 367.47,185.10 367.65,185.10 367.84,185.10 368.03,185.10 368.22,185.10 368.41,185.10 368.60,185.10 368.79,185.10 368.98,185.10 369.17,185.10 369.36,185.10 369.55,185.10 369.74,185.10 369.92,185.10 370.11,185.10 370.30,185.10 370.49,185.10 370.68,185.10 370.87,185.10 371.06,185.10 371.25,185.10 371.44,185.10 371.63,185.10 371.82,185.10 372.01,185.10 372.20,185.10 372.38,185.10 372.57,185.10 372.76,185.10 372.95,185.10 373.14,185.10 373.33,185.10 373.52,185.10 373.71,185.10 373.90,185.10 374.09,185.10 374.28,185.10 374.47,185.10 374.65,185.10 374.84,185.10 375.03,185.10 375.22,185.10 375.41,185.10 375.60,185.10 375.79,185.10 375.98,185.10 376.17,185.10 376.36,185.10 376.55,185.10 376.74,185.10 376.93,185.10 377.11,185.10 377.30,185.10 377.49,185.10 377.68,185.10 377.87,185.10 378.06,185.10 378.25,185.10 378.44,185.10 378.63,185.10 378.82,185.10 379.01,185.10 379.20,185.10 379.38,185.10 379.57,185.10 379.76,185.10 379.95,185.10 380.14,185.10 380.33,185.10 380.52,185.10 380.71,185.10 380.90,185.10 381.09,185.10 381.28,185.10 381.47,185.10 381.66,185.10 381.84,185.10 382.03,185.10 382.22,185.10 382.41,185.10 382.60,185.10 382.79,185.10 382.98,185.10 383.17,185.10 383.36,185.10 383.55,185.10 383.74,185.10 383.93,185.10 384.11,185.10 384.30,185.10 384.49,185.10 384.68,185.10 384.87,185.10 385.06,185.10 385.25,185.10 385.44,185.10 385.63,185.10 385.82,185.10 386.01,185.10 386.20,185.10 386.39,185.10 386.57,185.10 386.76,185.10 386.95,185.10 387.14,185.10 387.33,185.10 387.52,185.10 387.71,185.10 387.90,185.10 388.09,185.10 388.28,185.10 388.47,185.10 388.66,185.10 388.84,185.10 389.03,185.10 389.22,185.10 389.41,185.10 389.60,185.10 389.79,185.10 389.98,185.10 390.17,185.10 390.36,185.10 390.55,185.10 390.74,185.10 390.93,185.10 391.12,185.10 391.30,185.10 391.49,185.10 391.68,185.10 391.87,185.10 392.06,185.10 392.25,185.10 392.44,185.10 392.63,185.10 392.82,185.10 393.01,185.10 393.20,185.10 393.39,185.10 393.57,185.10 393.76,185.10 393.95,185.10 394.14,185.10 394.33,185.10 394.52,185.10 394.71,185.10 394.90,185.10 395.09,185.10 395.28,185.10 395.47,185.10 395.66,185.10 395.85,185.10 396.03,185.10 396.22,185.10 396.41,185.10 396.60,185.10 396.79,185.10 396.98,185.10 397.17,185.10 397.36,185.10 397.55,185.10 397.74,185.10 397.93,185.10 398.12,185.10 398.30,185.10 398.49,185.10 398.68,185.10 398.87,185.10 399.06,185.10 399.25,185.10 399.44,185.10 399.63,185.10 399.82,185.10 400.01,185.10 400.20,185.10 400.39,185.10 400.58,185.10 400.76,185.10 400.95,185.10 401.14,185.10 401.33,185.10 401.52,185.10 401.71,185.10 401.90,185.10 402.09,185.10 402.28,185.10 402.47,185.10 402.66,185.10 402.85,185.10 403.03,185.10 403.22,185.10 403.41,185.10 403.60,185.10 403.79,185.10 403.98,185.10 404.17,185.10 404.36,185.10 404.55,185.10 404.74,185.10 404.93,185.10 405.12,185.10 405.31,185.10 405.49,185.10 405.68,185.10 405.87,185.10 406.06,185.10 406.25,185.10 406.44,185.10 406.63,185.10 406.82,185.10 407.01,185.10 407.20,185.10 407.39,185.10 407.58,185.10 407.76,185.10 407.95,185.10 408.14,185.10 408.33,185.10 408.52,185.10 408.71,185.10 408.90,185.10" fill="none" stroke="#5ba85b" stroke-width="1.0" stroke-linejoin="round"/>
<text x="1.55" y="45.20" font-size="13.6" textLength="21.14" lengthAdjust="spacingAndGlyphs" fill="#111"> 50</text>
<path d="M515,0 L515,1237 L197,1010 L197,1180 L530,1409 L696,1409 L696,0 Z" transform="translate(1.550,45.200) scale(0.00619,-0.00664)" fill="#111" stroke="#111" stroke-width="33.13"/>
<text x="1.33" y="69.60" font-size="13.6" textLength="21.53" lengthAdjust="spacingAndGlyphs" fill="#111"> 25</text>
<path d="M515,0 L515,1237 L197,1010 L197,1180 L530,1409 L696,1409 L696,0 Z" transform="translate(1.332,69.600) scale(0.00630,-0.00664)" fill="#111" stroke="#111" stroke-width="33.13"/>
<text x="1.13" y="94.40" font-size="13.6" textLength="21.57" lengthAdjust="spacingAndGlyphs" fill="#111"> 00</text>
<path d="M515,0 L515,1237 L197,1010 L197,1180 L530,1409 L696,1409 L696,0 Z" transform="translate(1.131,94.400) scale(0.00631,-0.00664)" fill="#111" stroke="#111" stroke-width="33.13"/>
<text x="5.88" y="119.30" font-size="13.6" textLength="15.92" lengthAdjust="spacingAndGlyphs" fill="#111">75</text>
<text x="6.04" y="144.00" font-size="13.6" textLength="15.69" lengthAdjust="spacingAndGlyphs" fill="#111">50</text>
<text x="5.88" y="168.60" font-size="13.6" textLength="15.92" lengthAdjust="spacingAndGlyphs" fill="#111">25</text>
<text x="11.36" y="192.90" font-size="13.6" textLength="7.53" lengthAdjust="spacingAndGlyphs" fill="#111">0</text>
<text x="24.25" y="216.00" font-size="13.6" textLength="19.24" lengthAdjust="spacingAndGlyphs" fill="#111">0.0</text>
<text x="87.03" y="216.00" font-size="13.6" textLength="19.77" lengthAdjust="spacingAndGlyphs" fill="#111">5.0</text>
<text x="149.43" y="216.00" font-size="13.6" textLength="25.14" lengthAdjust="spacingAndGlyphs" fill="#111"> 0.0</text>
<path d="M515,0 L515,1237 L197,1010 L197,1180 L530,1409 L696,1409 L696,0 Z" transform="translate(149.431,216.000) scale(0.00631,-0.00664)" fill="#111" stroke="#111" stroke-width="33.13"/>
<text x="211.41" y="216.00" font-size="13.6" textLength="25.56" lengthAdjust="spacingAndGlyphs" fill="#111"> 5.0</text>
<path d="M515,0 L515,1237 L197,1010 L197,1180 L530,1409 L696,1409 L696,0 Z" transform="translate(211.415,216.000) scale(0.00641,-0.00664)" fill="#111" stroke="#111" stroke-width="33.13"/>
<text x="274.34" y="216.00" font-size="13.6" textLength="25.53" lengthAdjust="spacingAndGlyphs" fill="#111">20.0</text>
<text x="337.23" y="216.00" font-size="13.6" textLength="26.26" lengthAdjust="spacingAndGlyphs" fill="#111">25.0</text>
<text x="395.61" y="216.00" font-size="13.6" textLength="21.99" lengthAdjust="spacingAndGlyphs" fill="#111">min</text>
<text x="165.68" y="12.40" font-size="13.6" textLength="104.64" lengthAdjust="spacingAndGlyphs" fill="#111">Before treatment</text>
<text x="33.30" y="34.60" font-size="14.5" textLength="9.53" lengthAdjust="spacingAndGlyphs" fill="#111">A</text>
<text x="267.13" y="34.80" font-size="13.2" textLength="125.35" lengthAdjust="spacingAndGlyphs" fill="#111">Cyanidin-3-glucoside</text>
<line x1="97.85" y1="263.20" x2="97.85" y2="433.80" stroke="#efefef" stroke-width="1.2"/>
<line x1="160.10" y1="263.20" x2="160.10" y2="433.80" stroke="#efefef" stroke-width="1.2"/>
<line x1="222.35" y1="263.20" x2="222.35" y2="433.80" stroke="#efefef" stroke-width="1.2"/>
<line x1="284.60" y1="263.20" x2="284.60" y2="433.80" stroke="#efefef" stroke-width="1.2"/>
<line x1="346.85" y1="263.20" x2="346.85" y2="433.80" stroke="#efefef" stroke-width="1.2"/>
<line x1="35.60" y1="396.63" x2="408.80" y2="396.63" stroke="#efefef" stroke-width="1.2"/>
<line x1="35.60" y1="370.37" x2="408.80" y2="370.37" stroke="#efefef" stroke-width="1.2"/>
<line x1="35.60" y1="344.10" x2="408.80" y2="344.10" stroke="#efefef" stroke-width="1.2"/>
<line x1="35.60" y1="317.83" x2="408.80" y2="317.83" stroke="#efefef" stroke-width="1.2"/>
<line x1="35.60" y1="291.56" x2="408.80" y2="291.56" stroke="#efefef" stroke-width="1.2"/>
<line x1="35.60" y1="265.29" x2="408.80" y2="265.29" stroke="#efefef" stroke-width="1.2"/>
<line x1="33.00" y1="433.41" x2="35.60" y2="433.41" stroke="#7a7a7a" stroke-width="0.9"/>
<line x1="33.00" y1="428.15" x2="35.60" y2="428.15" stroke="#7a7a7a" stroke-width="0.9"/>
<line x1="30.60" y1="422.90" x2="35.60" y2="422.90" stroke="#7a7a7a" stroke-width="0.9"/>
<line x1="33.00" y1="417.65" x2="35.60" y2="417.65" stroke="#7a7a7a" stroke-width="0.9"/>
<line x1="33.00" y1="412.39" x2="35.60" y2="412.39" stroke="#7a7a7a" stroke-width="0.9"/>
<line x1="33.00" y1="407.14" x2="35.60" y2="407.14" stroke="#7a7a7a" stroke-width="0.9"/>
<line x1="33.00" y1="401.89" x2="35.60" y2="401.89" stroke="#7a7a7a" stroke-width="0.9"/>
<line x1="30.60" y1="396.63" x2="35.60" y2="396.63" stroke="#7a7a7a" stroke-width="0.9"/>
<line x1="33.00" y1="391.38" x2="35.60" y2="391.38" stroke="#7a7a7a" stroke-width="0.9"/>
<line x1="33.00" y1="386.13" x2="35.60" y2="386.13" stroke="#7a7a7a" stroke-width="0.9"/>
<line x1="33.00" y1="380.87" x2="35.60" y2="380.87" stroke="#7a7a7a" stroke-width="0.9"/>
<line x1="33.00" y1="375.62" x2="35.60" y2="375.62" stroke="#7a7a7a" stroke-width="0.9"/>
<line x1="30.60" y1="370.37" x2="35.60" y2="370.37" stroke="#7a7a7a" stroke-width="0.9"/>
<line x1="33.00" y1="365.11" x2="35.60" y2="365.11" stroke="#7a7a7a" stroke-width="0.9"/>
<line x1="33.00" y1="359.86" x2="35.60" y2="359.86" stroke="#7a7a7a" stroke-width="0.9"/>
<line x1="33.00" y1="354.60" x2="35.60" y2="354.60" stroke="#7a7a7a" stroke-width="0.9"/>
<line x1="33.00" y1="349.35" x2="35.60" y2="349.35" stroke="#7a7a7a" stroke-width="0.9"/>
<line x1="30.60" y1="344.10" x2="35.60" y2="344.10" stroke="#7a7a7a" stroke-width="0.9"/>
<line x1="33.00" y1="338.84" x2="35.60" y2="338.84" stroke="#7a7a7a" stroke-width="0.9"/>
<line x1="33.00" y1="333.59" x2="35.60" y2="333.59" stroke="#7a7a7a" stroke-width="0.9"/>
<line x1="33.00" y1="328.34" x2="35.60" y2="328.34" stroke="#7a7a7a" stroke-width="0.9"/>
<line x1="33.00" y1="323.08" x2="35.60" y2="323.08" stroke="#7a7a7a" stroke-width="0.9"/>
<line x1="30.60" y1="317.83" x2="35.60" y2="317.83" stroke="#7a7a7a" stroke-width="0.9"/>
<line x1="33.00" y1="312.58" x2="35.60" y2="312.58" stroke="#7a7a7a" stroke-width="0.9"/>
<line x1="33.00" y1="307.32" x2="35.60" y2="307.32" stroke="#7a7a7a" stroke-width="0.9"/>
<line x1="33.00" y1="302.07" x2="35.60" y2="302.07" stroke="#7a7a7a" stroke-width="0.9"/>
<line x1="33.00" y1="296.82" x2="35.60" y2="296.82" stroke="#7a7a7a" stroke-width="0.9"/>
<line x1="30.60" y1="291.56" x2="35.60" y2="291.56" stroke="#7a7a7a" stroke-width="0.9"/>
<line x1="33.00" y1="286.31" x2="35.60" y2="286.31" stroke="#7a7a7a" stroke-width="0.9"/>
<line x1="33.00" y1="281.06" x2="35.60" y2="281.06" stroke="#7a7a7a" stroke-width="0.9"/>
<line x1="33.00" y1="275.80" x2="35.60" y2="275.80" stroke="#7a7a7a" stroke-width="0.9"/>
<line x1="33.00" y1="270.55" x2="35.60" y2="270.55" stroke="#7a7a7a" stroke-width="0.9"/>
<line x1="30.60" y1="265.29" x2="35.60" y2="265.29" stroke="#7a7a7a" stroke-width="0.9"/>
<line x1="35.60" y1="433.80" x2="35.60" y2="439.80" stroke="#7a7a7a" stroke-width="0.9"/>
<line x1="48.05" y1="433.80" x2="48.05" y2="437.20" stroke="#7a7a7a" stroke-width="0.9"/>
<line x1="60.50" y1="433.80" x2="60.50" y2="437.20" stroke="#7a7a7a" stroke-width="0.9"/>
<line x1="72.95" y1="433.80" x2="72.95" y2="437.20" stroke="#7a7a7a" stroke-width="0.9"/>
<line x1="85.40" y1="433.80" x2="85.40" y2="437.20" stroke="#7a7a7a" stroke-width="0.9"/>
<line x1="97.85" y1="433.80" x2="97.85" y2="439.80" stroke="#7a7a7a" stroke-width="0.9"/>
<line x1="110.30" y1="433.80" x2="110.30" y2="437.20" stroke="#7a7a7a" stroke-width="0.9"/>
<line x1="122.75" y1="433.80" x2="122.75" y2="437.20" stroke="#7a7a7a" stroke-width="0.9"/>
<line x1="135.20" y1="433.80" x2="135.20" y2="437.20" stroke="#7a7a7a" stroke-width="0.9"/>
<line x1="147.65" y1="433.80" x2="147.65" y2="437.20" stroke="#7a7a7a" stroke-width="0.9"/>
<line x1="160.10" y1="433.80" x2="160.10" y2="439.80" stroke="#7a7a7a" stroke-width="0.9"/>
<line x1="172.55" y1="433.80" x2="172.55" y2="437.20" stroke="#7a7a7a" stroke-width="0.9"/>
<line x1="185.00" y1="433.80" x2="185.00" y2="437.20" stroke="#7a7a7a" stroke-width="0.9"/>
<line x1="197.45" y1="433.80" x2="197.45" y2="437.20" stroke="#7a7a7a" stroke-width="0.9"/>
<line x1="209.90" y1="433.80" x2="209.90" y2="437.20" stroke="#7a7a7a" stroke-width="0.9"/>
<line x1="222.35" y1="433.80" x2="222.35" y2="439.80" stroke="#7a7a7a" stroke-width="0.9"/>
<line x1="234.80" y1="433.80" x2="234.80" y2="437.20" stroke="#7a7a7a" stroke-width="0.9"/>
<line x1="247.25" y1="433.80" x2="247.25" y2="437.20" stroke="#7a7a7a" stroke-width="0.9"/>
<line x1="259.70" y1="433.80" x2="259.70" y2="437.20" stroke="#7a7a7a" stroke-width="0.9"/>
<line x1="272.15" y1="433.80" x2="272.15" y2="437.20" stroke="#7a7a7a" stroke-width="0.9"/>
<line x1="284.60" y1="433.80" x2="284.60" y2="439.80" stroke="#7a7a7a" stroke-width="0.9"/>
<line x1="297.05" y1="433.80" x2="297.05" y2="437.20" stroke="#7a7a7a" stroke-width="0.9"/>
<line x1="309.50" y1="433.80" x2="309.50" y2="437.20" stroke="#7a7a7a" stroke-width="0.9"/>
<line x1="321.95" y1="433.80" x2="321.95" y2="437.20" stroke="#7a7a7a" stroke-width="0.9"/>
<line x1="334.40" y1="433.80" x2="334.40" y2="437.20" stroke="#7a7a7a" stroke-width="0.9"/>
<line x1="346.85" y1="433.80" x2="346.85" y2="439.80" stroke="#7a7a7a" stroke-width="0.9"/>
<line x1="359.30" y1="433.80" x2="359.30" y2="437.20" stroke="#7a7a7a" stroke-width="0.9"/>
<line x1="371.75" y1="433.80" x2="371.75" y2="437.20" stroke="#7a7a7a" stroke-width="0.9"/>
<line x1="384.20" y1="433.80" x2="384.20" y2="437.20" stroke="#7a7a7a" stroke-width="0.9"/>
<line x1="396.65" y1="433.80" x2="396.65" y2="437.20" stroke="#7a7a7a" stroke-width="0.9"/>
<line x1="408.80" y1="433.80" x2="408.80" y2="439.80" stroke="#7a7a7a" stroke-width="0.9"/>
<rect x="35.60" y="263.20" width="373.20" height="170.60" stroke="#7a7a7a" stroke-width="1.2" fill="none"/>
<polyline points="35.60,422.90 35.79,422.90 35.97,422.90 36.16,422.90 36.35,422.90 36.53,422.90 36.72,422.90 36.91,422.90 37.09,422.90 37.28,422.90 37.47,422.90 37.65,422.90 37.84,422.90 38.03,422.90 38.21,422.90 38.40,422.90 38.59,422.90 38.77,422.90 38.96,422.90 39.15,422.90 39.33,422.90 39.52,422.90 39.71,422.90 39.89,422.90 40.08,422.90 40.27,422.90 40.45,422.90 40.64,422.90 40.82,422.90 41.01,422.90 41.20,422.90 41.38,422.90 41.57,422.90 41.76,422.90 41.94,422.90 42.13,422.90 42.32,422.90 42.50,422.90 42.69,422.90 42.88,422.90 43.06,422.90 43.25,422.90 43.44,422.90 43.62,422.90 43.81,422.90 44.00,422.90 44.18,422.90 44.37,422.90 44.56,422.90 44.74,422.90 44.93,422.90 45.12,422.90 45.30,422.90 45.49,422.90 45.68,422.90 45.86,422.90 46.05,422.90 46.24,422.90 46.42,422.90 46.61,422.90 46.80,422.90 46.98,422.90 47.17,422.90 47.36,422.90 47.54,422.90 47.73,422.90 47.92,422.90 48.10,422.90 48.29,422.90 48.48,422.90 48.66,422.90 48.85,422.90 49.04,422.90 49.22,422.90 49.41,422.90 49.59,422.90 49.78,422.90 49.97,422.90 50.15,422.90 50.34,422.90 50.53,422.90 50.71,422.90 50.90,422.90 51.09,422.90 51.27,422.90 51.46,422.90 51.65,422.90 51.83,422.90 52.02,422.90 52.21,422.90 52.39,422.90 52.58,422.90 52.77,422.90 52.95,422.90 53.14,422.90 53.33,422.90 53.51,422.90 53.70,422.90 53.89,422.90 54.07,422.90 54.26,422.90 54.45,422.90 54.63,422.90 54.82,422.90 55.01,422.90 55.19,422.90 55.38,422.90 55.57,422.90 55.75,422.90 55.94,422.90 56.13,422.90 56.31,422.90 56.50,422.90 56.69,422.90 56.87,422.90 57.06,422.90 57.25,422.90 57.43,422.90 57.62,422.90 57.81,422.90 57.99,422.90 58.18,422.90 58.37,422.90 58.55,422.90 58.74,422.90 58.92,422.90 59.11,422.90 59.30,422.90 59.48,422.90 59.67,422.90 59.86,422.90 60.04,422.90 60.23,422.90 60.42,422.90 60.60,422.90 60.79,422.90 60.98,422.90 61.16,422.90 61.35,422.90 61.54,422.90 61.72,422.90 61.91,422.90 62.10,422.90 62.28,422.90 62.47,422.90 62.66,422.90 62.84,422.90 63.03,422.90 63.22,422.90 63.40,422.90 63.59,422.90 63.78,422.90 63.96,422.90 64.15,422.90 64.34,422.90 64.52,422.90 64.71,422.90 64.90,422.90 65.08,422.90 65.27,422.90 65.46,422.90 65.64,422.90 65.83,422.90 66.02,422.90 66.20,422.90 66.39,422.90 66.58,422.90 66.76,422.90 66.95,422.90 67.14,422.90 67.32,422.90 67.51,422.90 67.70,422.90 67.88,422.90 68.07,422.90 68.25,422.90 68.44,422.90 68.63,422.90 68.81,422.90 69.00,422.90 69.19,422.90 69.37,422.90 69.56,422.90 69.75,422.90 69.93,422.90 70.12,422.90 70.31,422.90 70.49,422.90 70.68,422.90 70.87,422.90 71.05,422.90 71.24,422.90 71.43,422.90 71.61,422.90 71.80,422.90 71.99,422.90 72.17,422.90 72.36,422.90 72.55,422.90 72.73,422.90 72.92,422.90 72.95,422.90 73.82,419.75 74.19,421.32 74.57,426.47 75.07,423.53 75.69,422.90 75.72,422.90 75.91,422.90 76.09,422.90 76.28,422.90 76.47,422.90 76.65,422.90 76.84,422.90 77.03,422.90 77.21,422.90 77.40,422.90 77.59,422.90 77.77,422.90 77.96,422.90 78.14,422.90 78.33,422.90 78.52,422.90 78.70,422.90 78.89,422.90 79.08,422.90 79.26,422.90 79.45,422.90 79.64,422.90 79.82,422.90 80.01,422.90 80.20,422.90 80.38,422.90 80.57,422.90 80.76,422.90 80.94,422.90 81.13,422.90 81.32,422.90 81.50,422.90 81.69,422.90 81.88,422.90 82.06,422.90 82.25,422.90 82.44,422.90 82.62,422.90 82.81,422.90 83.00,422.90 83.18,422.90 83.37,422.90 83.56,422.90 83.74,422.90 83.93,422.90 84.12,422.90 84.30,422.90 84.49,422.90 84.68,422.90 84.86,422.90 85.05,422.90 85.24,422.90 85.42,422.90 85.61,422.90 85.80,422.90 85.98,422.90 86.17,422.90 86.36,422.90 86.54,422.90 86.73,422.90 86.91,422.90 87.10,422.90 87.29,422.90 87.47,422.90 87.66,422.90 87.85,422.90 88.03,422.90 88.22,422.90 88.41,422.90 88.59,422.90 88.78,422.90 88.97,422.90 89.15,422.90 89.34,422.90 89.53,422.90 89.71,422.90 89.90,422.90 90.09,422.90 90.27,422.90 90.46,422.90 90.65,422.90 90.83,422.90 91.02,422.90 91.21,422.90 91.39,422.90 91.58,422.90 91.77,422.90 91.95,422.90 92.14,422.90 92.33,422.90 92.51,422.90 92.70,422.90 92.89,422.90 93.07,422.90 93.26,422.90 93.45,422.90 93.63,422.90 93.82,422.90 94.01,422.90 94.19,422.90 94.38,422.90 94.57,422.90 94.75,422.90 94.94,422.90 95.13,422.90 95.31,422.90 95.50,422.90 95.69,422.90 95.87,422.90 96.06,422.90 96.24,422.90 96.43,422.90 96.62,422.90 96.80,422.90 96.99,422.90 97.18,422.90 97.36,422.90 97.55,422.90 97.74,422.90 97.92,422.90 98.11,422.90 98.30,422.90 98.48,422.90 98.67,422.90 98.86,422.90 99.04,422.90 99.23,422.90 99.42,422.90 99.60,422.90 99.79,422.90 99.98,422.90 100.16,422.90 100.35,422.90 100.54,422.90 100.72,422.90 100.91,422.90 101.10,422.90 101.28,422.90 101.47,422.90 101.66,422.90 101.84,422.90 102.03,422.90 102.22,422.90 102.40,422.90 102.59,422.90 102.78,422.90 102.96,422.90 103.15,422.90 103.34,422.90 103.52,422.90 103.71,422.90 103.90,422.90 104.08,422.90 104.27,422.90 104.46,422.90 104.64,422.90 104.83,422.90 105.02,422.90 105.20,422.90 105.39,422.90 105.58,422.90 105.76,422.90 105.95,422.90 106.13,422.90 106.32,422.90 106.51,422.90 106.69,422.90 106.88,422.90 107.07,422.90 107.25,422.90 107.44,422.90 107.63,422.90 107.81,422.90 108.00,422.90 108.19,422.90 108.37,422.90 108.56,422.90 108.75,422.90 108.93,422.90 109.12,422.90 109.31,422.90 109.49,422.90 109.68,422.90 109.87,422.90 110.05,422.90 110.24,422.90 110.43,422.90 110.61,422.90 110.80,422.90 110.99,422.90 111.17,422.90 111.36,422.90 111.55,422.90 111.73,422.90 111.92,422.90 112.11,422.90 112.29,422.90 112.48,422.90 112.67,422.90 112.85,422.90 113.04,422.90 113.23,422.90 113.41,422.90 113.60,422.90 113.79,422.90 113.97,422.90 114.16,422.90 114.35,422.90 114.53,422.90 114.72,422.90 114.91,422.90 115.09,422.90 115.28,422.90 115.46,422.90 115.65,422.90 115.84,422.90 116.02,422.90 116.21,422.90 116.40,422.90 116.58,422.90 116.77,422.90 116.96,422.90 117.14,422.90 117.33,422.90 117.52,422.90 117.70,422.90 117.89,422.90 118.08,422.90 118.26,422.90 118.45,422.90 118.64,422.90 118.82,422.90 119.01,422.90 119.20,422.90 119.38,422.90 119.57,422.90 119.76,422.90 119.94,422.90 120.13,422.90 120.32,422.90 120.50,422.90 120.69,422.90 120.88,422.90 121.06,422.90 121.25,422.90 121.44,422.90 121.62,422.90 121.81,422.90 122.00,422.90 122.18,422.90 122.37,422.90 122.56,422.90 122.74,422.90 122.93,422.90 123.12,422.90 123.30,422.90 123.49,422.90 123.68,422.90 123.86,422.90 124.05,422.90 124.23,422.90 124.42,422.90 124.61,422.90 124.79,422.90 124.98,422.90 125.17,422.90 125.35,422.90 125.54,422.90 125.73,422.90 125.91,422.90 126.10,422.90 126.29,422.90 126.47,422.90 126.66,422.90 126.85,422.90 127.03,422.90 127.22,422.90 127.41,422.90 127.59,422.90 127.78,422.90 127.97,422.90 128.15,422.90 128.34,422.90 128.53,422.90 128.71,422.90 128.90,422.90 129.09,422.90 129.27,422.90 129.46,422.90 129.65,422.90 129.83,422.90 130.02,422.90 130.21,422.90 130.39,422.90 130.58,422.90 130.77,422.90 130.95,422.90 131.14,422.90 131.33,422.90 131.51,422.90 131.70,422.90 131.89,422.90 132.07,422.90 132.26,422.90 132.45,422.90 132.63,422.90 132.82,422.90 133.01,422.90 133.19,422.90 133.38,422.90 133.56,422.90 133.75,422.90 133.94,422.90 134.12,422.90 134.31,422.90 134.50,422.90 134.68,422.90 134.87,422.90 135.06,422.90 135.24,422.90 135.43,422.90 135.62,422.90 135.80,422.90 135.99,422.90 136.18,422.90 136.36,422.90 136.55,422.90 136.74,422.90 136.92,422.90 137.11,422.90 137.30,422.90 137.48,422.90 137.67,422.90 137.86,422.90 138.04,422.90 138.23,422.90 138.42,422.90 138.60,422.90 138.79,422.90 138.98,422.90 139.16,422.90 139.35,422.90 139.54,422.90 139.72,422.90 139.91,422.90 140.10,422.90 140.28,422.90 140.47,422.90 140.66,422.90 140.84,422.90 141.03,422.90 141.22,422.90 141.40,422.90 141.59,422.90 141.78,422.90 141.96,422.90 142.15,422.90 142.34,422.90 142.52,422.90 142.71,422.90 142.89,422.90 143.08,422.90 143.27,422.90 143.45,422.90 143.64,422.90 143.83,422.90 144.01,422.90 144.20,422.90 144.39,422.90 144.57,422.90 144.76,422.90 144.95,422.90 145.13,422.90 145.32,422.90 145.51,422.90 145.69,422.90 145.88,422.90 146.07,422.90 146.25,422.90 146.44,422.90 146.63,422.90 146.81,422.90 147.00,422.90 147.19,422.90 147.37,422.90 147.56,422.90 147.75,422.90 147.93,422.90 148.12,422.90 148.31,422.90 148.49,422.90 148.68,422.90 148.87,422.90 149.05,422.90 149.24,422.90 149.43,422.90 149.61,422.90 149.80,422.90 149.99,422.90 150.17,422.90 150.36,422.90 150.55,422.90 150.73,422.90 150.92,422.90 151.11,422.90 151.29,422.90 151.48,422.90 151.67,422.90 151.85,422.90 152.04,422.90 152.22,422.90 152.41,422.90 152.60,422.90 152.78,422.90 152.97,422.90 153.16,422.90 153.34,422.90 153.53,422.90 153.72,422.90 153.90,422.90 154.09,422.90 154.28,422.90 154.46,422.90 154.65,422.90 154.84,422.90 155.02,422.90 155.21,422.90 155.40,422.90 155.58,422.90 155.77,422.90 155.96,422.90 156.14,422.90 156.33,422.90 156.52,422.90 156.70,422.90 156.89,422.90 157.08,422.90 157.26,422.90 157.45,422.90 157.64,422.90 157.82,422.90 158.01,422.90 158.20,422.90 158.38,422.90 158.57,422.90 158.76,422.90 158.94,422.90 159.13,422.90 159.32,422.90 159.50,422.90 159.69,422.90 159.88,422.90 160.06,422.90 160.25,422.90 160.44,422.90 160.62,422.90 160.81,422.90 161.00,422.90 161.18,422.90 161.37,422.90 161.56,422.90 161.74,422.90 161.93,422.90 162.11,422.90 162.30,422.90 162.49,422.90 162.67,422.90 162.86,422.90 163.05,422.90 163.23,422.90 163.42,422.90 163.61,422.90 163.79,422.90 163.98,422.90 164.17,422.90 164.35,422.90 164.54,422.90 164.73,422.90 164.91,422.90 165.10,422.90 165.29,422.90 165.47,422.90 165.66,422.90 165.85,422.90 166.03,422.90 166.22,422.90 166.41,422.90 166.59,422.90 166.78,422.90 166.97,422.90 167.15,422.90 167.34,422.90 167.53,422.90 167.71,422.90 167.90,422.90 168.09,422.90 168.27,422.90 168.46,422.90 168.65,422.90 168.83,422.90 169.02,422.90 169.21,422.90 169.39,422.90 169.58,422.90 169.77,422.90 169.95,422.90 170.14,422.90 170.33,422.90 170.51,422.90 170.70,422.90 170.88,422.90 171.07,422.90 171.26,422.90 171.44,422.90 171.63,422.90 171.82,422.90 172.00,422.90 172.19,422.90 172.38,422.90 172.56,422.90 172.75,422.90 172.94,422.90 173.12,422.90 173.31,422.90 173.50,422.90 173.68,422.90 173.87,422.90 174.06,422.90 174.24,422.90 174.43,422.90 174.62,422.90 174.80,422.90 174.99,422.90 175.18,422.90 175.36,422.90 175.55,422.90 175.74,422.90 175.92,422.90 176.11,422.90 176.30,422.90 176.48,422.90 176.67,422.90 176.86,422.90 177.04,422.90 177.23,422.90 177.42,422.90 177.60,422.90 177.79,422.90 177.98,422.90 178.16,422.90 178.35,422.90 178.54,422.90 178.72,422.90 178.91,422.90 179.10,422.90 179.28,422.90 179.47,422.90 179.66,422.90 179.84,422.90 180.03,422.90 180.21,422.90 180.40,422.90 180.59,422.90 180.77,422.90 180.96,422.90 181.15,422.90 181.33,422.90 181.52,422.90 181.71,422.90 181.89,422.90 182.08,422.90 182.27,422.90 182.45,422.90 182.64,422.90 182.83,422.90 183.01,422.90 183.20,422.90 183.39,422.90 183.57,422.90 183.76,422.90 183.95,422.90 184.13,422.90 184.32,422.90 184.51,422.90 184.69,422.90 184.88,422.90 185.07,422.90 185.25,422.90 185.44,422.90 185.63,422.90 185.81,422.90 186.00,422.90 186.19,422.90 186.37,422.90 186.56,422.90 186.75,422.90 186.93,422.90 187.12,422.90 187.31,422.90 187.49,422.90 187.68,422.90 187.87,422.90 188.05,422.90 188.24,422.90 188.43,422.90 188.61,422.90 188.80,422.90 188.99,422.90 189.17,422.90 189.36,422.90 189.54,422.90 189.73,422.90 189.92,422.90 190.10,422.90 190.29,422.90 190.48,422.90 190.66,422.90 190.85,422.90 191.04,422.90 191.22,422.90 191.41,422.90 191.60,422.90 191.78,422.90 191.97,422.90 192.16,422.90 192.34,422.90 192.53,422.90 192.72,422.90 192.90,422.90 193.09,422.90 193.28,422.90 193.46,422.90 193.65,422.90 193.84,422.90 194.02,422.90 194.21,422.90 194.40,422.90 194.58,422.90 194.77,422.90 194.96,422.90 195.14,422.90 195.33,422.90 195.52,422.90 195.70,422.90 195.89,422.90 196.08,422.90 196.26,422.90 196.45,422.90 196.64,422.90 196.82,422.90 197.01,422.90 197.20,422.90 197.38,422.90 197.57,422.90 197.76,422.90 197.94,422.90 198.13,422.90 198.32,422.90 198.50,422.90 198.69,422.90 198.87,422.90 199.06,422.90 199.25,422.90 199.43,422.90 199.62,422.90 199.81,422.90 199.99,422.90 200.18,422.90 200.37,422.90 200.55,422.90 200.74,422.90 200.93,422.90 201.11,422.90 201.30,422.90 201.49,422.90 201.67,422.90 201.86,422.90 202.05,422.90 202.23,422.90 202.42,422.90 202.61,422.90 202.79,422.90 202.98,422.90 203.17,422.90 203.35,422.90 203.54,422.90 203.73,422.90 203.91,422.90 204.10,422.90 204.29,422.90 204.47,422.90 204.66,422.90 204.85,422.90 205.03,422.90 205.22,422.90 205.41,422.90 205.59,422.90 205.78,422.90 205.97,422.90 206.15,422.90 206.34,422.90 206.53,422.90 206.71,422.90 206.90,422.90 207.09,422.90 207.27,422.90 207.46,422.90 207.65,422.90 207.83,422.90 208.02,422.90 208.20,422.90 208.39,422.90 208.58,422.90 208.76,422.90 208.95,422.90 209.14,422.90 209.32,422.90 209.51,422.90 209.70,422.90 209.88,422.90 210.07,422.89 210.26,422.89 210.44,422.89 210.63,422.88 210.82,422.87 211.00,422.85 211.19,422.83 211.38,422.81 211.56,422.77 211.75,422.72 211.94,422.66 212.12,422.57 212.31,422.47 212.50,422.34 212.68,422.19 212.87,422.01 213.06,421.80 213.24,421.56 213.43,421.29 213.62,421.01 213.80,420.70 213.99,420.38 214.18,420.07 214.36,419.76 214.55,419.47 214.74,419.22 214.92,419.00 215.11,418.84 215.30,418.74 215.48,418.70 215.67,418.72 215.86,418.81 216.04,418.96 216.23,419.17 216.42,419.41 216.60,419.69 216.79,420.00 216.98,420.31 217.16,420.63 217.35,420.94 217.53,421.23 217.72,421.51 217.91,421.75 218.09,421.97 218.28,422.15 218.47,422.31 218.65,422.45 218.84,422.55 219.03,422.64 219.21,422.71 219.40,422.76 219.59,422.80 219.77,422.83 219.96,422.85 220.15,422.87 220.33,422.88 220.52,422.89 220.71,422.89 220.89,422.89 221.08,422.90 221.27,422.90 221.45,422.90 221.64,422.90 221.83,422.90 222.01,422.90 222.20,422.90 222.39,422.90 222.57,422.90 222.76,422.90 222.95,422.90 223.13,422.90 223.32,422.90 223.51,422.90 223.69,422.90 223.88,422.90 224.07,422.90 224.25,422.90 224.44,422.90 224.63,422.90 224.81,422.90 225.00,422.90 225.19,422.90 225.37,422.90 225.56,422.90 225.75,422.90 225.93,422.90 226.12,422.90 226.31,422.90 226.49,422.90 226.68,422.90 226.86,422.90 227.05,422.90 227.24,422.90 227.42,422.90 227.61,422.90 227.80,422.90 227.98,422.90 228.17,422.90 228.36,422.90 228.54,422.90 228.73,422.90 228.92,422.90 229.10,422.90 229.29,422.90 229.48,422.90 229.66,422.90 229.85,422.90 230.04,422.90 230.22,422.89 230.41,422.89 230.60,422.89 230.78,422.88 230.97,422.88 231.16,422.87 231.34,422.86 231.53,422.85 231.72,422.84 231.90,422.83 232.09,422.81 232.28,422.79 232.46,422.77 232.65,422.74 232.84,422.71 233.02,422.67 233.21,422.63 233.40,422.59 233.58,422.55 233.77,422.50 233.96,422.45 234.14,422.40 234.33,422.35 234.52,422.30 234.70,422.25 234.89,422.21 235.08,422.17 235.26,422.13 235.45,422.10 235.64,422.08 235.82,422.07 236.01,422.06 236.19,422.06 236.38,422.07 236.57,422.09 236.75,422.12 236.94,422.15 237.13,422.19 237.31,422.23 237.50,422.28 237.69,422.33 237.87,422.38 238.06,422.43 238.25,422.48 238.43,422.53 238.62,422.58 238.81,422.62 238.99,422.66 239.18,422.69 239.37,422.73 239.55,422.76 239.74,422.78 239.93,422.80 240.11,422.82 240.30,422.84 240.49,422.85 240.67,422.86 240.86,422.87 241.05,422.88 241.23,422.88 241.42,422.89 241.61,422.89 241.79,422.89 241.98,422.89 242.17,422.90 242.35,422.90 242.54,422.90 242.73,422.90 242.91,422.90 243.10,422.90 243.29,422.90 243.47,422.90 243.66,422.90 243.85,422.90 244.03,422.90 244.22,422.90 244.41,422.90 244.59,422.90 244.78,422.90 244.97,422.90 245.15,422.90 245.34,422.90 245.53,422.90 245.71,422.90 245.90,422.90 246.08,422.90 246.27,422.90 246.46,422.90 246.64,422.90 246.83,422.90 247.02,422.90 247.20,422.90 247.39,422.90 247.58,422.90 247.76,422.90 247.95,422.90 248.14,422.90 248.32,422.90 248.51,422.90 248.70,422.90 248.88,422.90 249.07,422.90 249.26,422.90 249.44,422.90 249.63,422.90 249.82,422.90 250.00,422.90 250.19,422.90 250.38,422.90 250.56,422.90 250.75,422.90 250.94,422.90 251.12,422.90 251.31,422.90 251.50,422.90 251.68,422.90 251.87,422.90 252.06,422.90 252.24,422.90 252.43,422.90 252.62,422.90 252.80,422.90 252.99,422.90 253.18,422.90 253.36,422.90 253.55,422.90 253.74,422.90 253.92,422.90 254.11,422.90 254.30,422.90 254.48,422.90 254.67,422.90 254.85,422.90 255.04,422.90 255.23,422.90 255.41,422.90 255.60,422.90 255.79,422.90 255.97,422.90 256.16,422.90 256.35,422.90 256.53,422.90 256.72,422.90 256.91,422.90 257.09,422.90 257.28,422.89 257.47,422.89 257.65,422.89 257.84,422.89 258.03,422.88 258.21,422.88 258.40,422.87 258.59,422.87 258.77,422.86 258.96,422.85 259.15,422.84 259.33,422.83 259.52,422.81 259.71,422.79 259.89,422.78 260.08,422.76 260.27,422.73 260.45,422.71 260.64,422.69 260.83,422.66 261.01,422.63 261.20,422.60 261.39,422.57 261.57,422.54 261.76,422.50 261.95,422.45 262.13,422.38 262.32,422.27 262.51,422.12 262.69,421.89 262.88,421.53 263.07,421.00 263.25,420.23 263.44,419.12 263.63,417.55 263.81,415.39 264.00,412.49 264.19,408.68 264.37,403.80 264.56,397.70 264.74,390.28 264.93,381.48 265.12,371.33 265.30,359.96 265.49,347.61 265.68,334.63 265.86,321.49 266.05,308.74 266.24,296.96 266.42,286.75 266.61,278.69 266.80,273.22 266.98,270.68 267.17,271.22 267.36,274.80 267.54,281.21 267.73,290.07 267.92,300.90 268.10,313.10 268.29,326.07 268.48,339.23 268.66,352.06 268.85,364.14 269.04,375.14 269.22,384.86 269.41,393.21 269.60,400.20 269.78,405.89 269.97,410.42 270.16,413.92 270.34,416.57 270.53,418.53 270.72,419.94 270.90,420.94 271.09,421.63 271.28,422.09 271.46,422.39 271.65,422.59 271.84,422.71 272.02,422.79 272.21,422.84 272.40,422.86 272.58,422.88 272.77,422.89 272.96,422.89 273.14,422.90 273.33,422.90 273.51,422.90 273.70,422.90 273.89,422.90 274.07,422.90 274.26,422.90 274.45,422.90 274.63,422.90 274.82,422.90 275.01,422.90 275.19,422.90 275.38,422.90 275.57,422.90 275.75,422.90 275.94,422.90 276.13,422.90 276.31,422.90 276.50,422.90 276.69,422.90 276.87,422.90 277.06,422.90 277.25,422.90 277.43,422.90 277.62,422.90 277.81,422.90 277.99,422.90 278.18,422.90 278.37,422.90 278.55,422.90 278.74,422.90 278.93,422.90 279.11,422.90 279.30,422.90 279.49,422.90 279.67,422.90 279.86,422.90 280.05,422.90 280.23,422.90 280.42,422.90 280.61,422.90 280.79,422.90 280.98,422.90 281.17,422.90 281.35,422.90 281.54,422.90 281.73,422.90 281.91,422.90 282.10,422.90 282.29,422.90 282.47,422.90 282.66,422.90 282.84,422.90 283.03,422.90 283.22,422.90 283.40,422.90 283.59,422.90 283.78,422.90 283.96,422.90 284.15,422.90 284.34,422.90 284.52,422.90 284.71,422.90 284.90,422.90 285.08,422.90 285.27,422.90 285.46,422.90 285.64,422.90 285.83,422.90 286.02,422.90 286.20,422.90 286.39,422.90 286.58,422.90 286.76,422.90 286.95,422.90 287.14,422.90 287.32,422.90 287.51,422.90 287.70,422.90 287.88,422.90 288.07,422.90 288.26,422.90 288.44,422.90 288.63,422.90 288.82,422.90 289.00,422.90 289.19,422.90 289.38,422.90 289.56,422.90 289.75,422.90 289.94,422.90 290.12,422.90 290.31,422.90 290.50,422.90 290.68,422.90 290.87,422.90 291.06,422.90 291.24,422.90 291.43,422.90 291.62,422.90 291.80,422.90 291.99,422.90 292.18,422.90 292.36,422.90 292.55,422.90 292.73,422.90 292.92,422.90 293.11,422.90 293.29,422.90 293.48,422.90 293.67,422.90 293.85,422.90 294.04,422.90 294.23,422.90 294.41,422.90 294.60,422.90 294.79,422.90 294.97,422.90 295.16,422.90 295.35,422.90 295.53,422.90 295.72,422.90 295.91,422.90 296.09,422.90 296.28,422.90 296.47,422.90 296.65,422.90 296.84,422.90 297.03,422.90 297.21,422.90 297.40,422.90 297.59,422.90 297.77,422.90 297.96,422.90 298.15,422.90 298.33,422.90 298.52,422.90 298.71,422.90 298.89,422.90 299.08,422.90 299.27,422.90 299.45,422.90 299.64,422.90 299.83,422.90 300.01,422.90 300.20,422.90 300.39,422.90 300.57,422.90 300.76,422.90 300.95,422.90 301.13,422.90 301.32,422.90 301.50,422.90 301.69,422.90 301.88,422.90 302.06,422.90 302.25,422.90 302.44,422.90 302.62,422.90 302.81,422.90 303.00,422.90 303.18,422.90 303.37,422.90 303.56,422.90 303.74,422.90 303.93,422.90 304.12,422.90 304.30,422.90 304.49,422.90 304.68,422.90 304.86,422.90 305.05,422.90 305.24,422.90 305.42,422.90 305.61,422.90 305.80,422.90 305.98,422.90 306.17,422.90 306.36,422.90 306.54,422.90 306.73,422.90 306.92,422.90 307.10,422.90 307.29,422.90 307.48,422.90 307.66,422.90 307.85,422.90 308.04,422.90 308.22,422.90 308.41,422.90 308.60,422.90 308.78,422.90 308.97,422.90 309.16,422.90 309.34,422.90 309.53,422.90 309.72,422.90 309.90,422.90 310.09,422.90 310.28,422.90 310.46,422.90 310.65,422.90 310.83,422.90 311.02,422.90 311.21,422.90 311.39,422.90 311.58,422.90 311.77,422.90 311.95,422.90 312.14,422.90 312.33,422.90 312.51,422.90 312.70,422.90 312.89,422.90 313.07,422.90 313.26,422.90 313.45,422.90 313.63,422.90 313.82,422.90 314.01,422.90 314.19,422.90 314.38,422.90 314.57,422.90 314.75,422.90 314.94,422.90 315.13,422.90 315.31,422.90 315.50,422.90 315.69,422.90 315.87,422.90 316.06,422.90 316.25,422.90 316.43,422.90 316.62,422.90 316.81,422.90 316.99,422.90 317.18,422.90 317.37,422.90 317.55,422.90 317.74,422.90 317.93,422.90 318.11,422.90 318.30,422.90 318.49,422.90 318.67,422.90 318.86,422.90 319.05,422.90 319.23,422.90 319.42,422.90 319.61,422.90 319.79,422.90 319.98,422.90 320.17,422.90 320.35,422.90 320.54,422.90 320.72,422.90 320.91,422.90 321.10,422.90 321.28,422.90 321.47,422.90 321.66,422.90 321.84,422.90 322.03,422.90 322.22,422.90 322.40,422.90 322.59,422.90 322.78,422.90 322.96,422.90 323.15,422.90 323.34,422.90 323.52,422.90 323.71,422.90 323.90,422.90 324.08,422.90 324.27,422.90 324.46,422.90 324.64,422.90 324.83,422.90 325.02,422.90 325.20,422.90 325.39,422.90 325.58,422.90 325.76,422.90 325.95,422.90 326.14,422.90 326.32,422.90 326.51,422.90 326.70,422.90 326.88,422.90 327.07,422.90 327.26,422.90 327.44,422.90 327.63,422.90 327.82,422.90 328.00,422.90 328.19,422.90 328.38,422.90 328.56,422.90 328.75,422.90 328.94,422.90 329.12,422.90 329.31,422.90 329.50,422.90 329.68,422.90 329.87,422.90 330.05,422.90 330.24,422.90 330.43,422.90 330.61,422.90 330.80,422.90 330.99,422.90 331.17,422.90 331.36,422.90 331.55,422.90 331.73,422.90 331.92,422.90 332.11,422.90 332.29,422.90 332.48,422.90 332.67,422.90 332.85,422.90 333.04,422.90 333.23,422.90 333.41,422.90 333.60,422.90 333.79,422.90 333.97,422.90 334.16,422.90 334.35,422.90 334.53,422.90 334.72,422.90 334.91,422.90 335.09,422.90 335.28,422.90 335.47,422.90 335.65,422.90 335.84,422.90 336.03,422.90 336.21,422.90 336.40,422.90 336.59,422.90 336.77,422.90 336.96,422.90 337.15,422.90 337.33,422.90 337.52,422.90 337.71,422.90 337.89,422.90 338.08,422.90 338.27,422.90 338.45,422.90 338.64,422.90 338.82,422.90 339.01,422.90 339.20,422.90 339.38,422.90 339.57,422.90 339.76,422.90 339.94,422.90 340.13,422.90 340.32,422.90 340.50,422.90 340.69,422.90 340.88,422.90 341.06,422.90 341.25,422.90 341.44,422.90 341.62,422.90 341.81,422.90 342.00,422.90 342.18,422.90 342.37,422.90 342.56,422.90 342.74,422.90 342.93,422.90 343.12,422.90 343.30,422.90 343.49,422.90 343.68,422.90 343.86,422.90 344.05,422.90 344.24,422.90 344.42,422.90 344.61,422.90 344.80,422.90 344.98,422.90 345.17,422.90 345.36,422.90 345.54,422.90 345.73,422.90 345.92,422.90 346.10,422.90 346.29,422.90 346.48,422.90 346.66,422.90 346.85,422.90 347.04,422.90 347.22,422.90 347.41,422.90 347.60,422.90 347.78,422.90 347.97,422.90 348.15,422.90 348.34,422.90 348.53,422.90 348.71,422.90 348.90,422.90 349.09,422.90 349.27,422.90 349.46,422.90 349.65,422.90 349.83,422.90 350.02,422.90 350.21,422.90 350.39,422.90 350.58,422.90 350.77,422.90 350.95,422.90 351.14,422.90 351.33,422.90 351.51,422.90 351.70,422.90 351.89,422.90 352.07,422.90 352.26,422.90 352.45,422.90 352.63,422.90 352.82,422.90 353.01,422.90 353.19,422.90 353.38,422.90 353.57,422.90 353.75,422.90 353.94,422.90 354.13,422.90 354.31,422.90 354.50,422.90 354.69,422.90 354.87,422.90 355.06,422.90 355.25,422.90 355.43,422.90 355.62,422.90 355.81,422.90 355.99,422.90 356.18,422.90 356.37,422.90 356.55,422.90 356.74,422.90 356.93,422.90 357.11,422.90 357.30,422.90 357.49,422.90 357.67,422.90 357.86,422.90 358.04,422.90 358.23,422.90 358.42,422.90 358.60,422.90 358.79,422.90 358.98,422.90 359.16,422.90 359.35,422.90 359.54,422.90 359.72,422.90 359.91,422.90 360.10,422.90 360.28,422.90 360.47,422.90 360.66,422.90 360.84,422.90 361.03,422.90 361.22,422.90 361.40,422.90 361.59,422.90 361.78,422.90 361.96,422.90 362.15,422.90 362.34,422.90 362.52,422.90 362.71,422.90 362.90,422.90 363.08,422.90 363.27,422.90 363.46,422.90 363.64,422.90 363.83,422.90 364.02,422.90 364.20,422.90 364.39,422.90 364.58,422.90 364.76,422.90 364.95,422.90 365.14,422.90 365.32,422.90 365.51,422.90 365.70,422.90 365.88,422.90 366.07,422.90 366.26,422.90 366.44,422.90 366.63,422.90 366.81,422.90 367.00,422.90 367.19,422.90 367.37,422.90 367.56,422.90 367.75,422.90 367.93,422.90 368.12,422.90 368.31,422.90 368.49,422.90 368.68,422.90 368.87,422.90 369.05,422.90 369.24,422.90 369.43,422.90 369.61,422.90 369.80,422.90 369.99,422.90 370.17,422.90 370.36,422.90 370.55,422.90 370.73,422.90 370.92,422.90 371.11,422.90 371.29,422.90 371.48,422.90 371.67,422.90 371.85,422.90 372.04,422.90 372.23,422.90 372.41,422.90 372.60,422.90 372.79,422.90 372.97,422.90 373.16,422.90 373.35,422.90 373.53,422.90 373.72,422.90 373.91,422.90 374.09,422.90 374.28,422.90 374.47,422.90 374.65,422.90 374.84,422.90 375.03,422.90 375.21,422.90 375.40,422.90 375.59,422.90 375.77,422.90 375.96,422.90 376.14,422.90 376.33,422.90 376.52,422.90 376.70,422.90 376.89,422.90 377.08,422.90 377.26,422.90 377.45,422.90 377.64,422.90 377.82,422.90 378.01,422.90 378.20,422.90 378.38,422.90 378.57,422.90 378.76,422.90 378.94,422.90 379.13,422.90 379.32,422.90 379.50,422.90 379.69,422.90 379.88,422.90 380.06,422.90 380.25,422.90 380.44,422.90 380.62,422.90 380.81,422.90 381.00,422.90 381.18,422.90 381.37,422.90 381.56,422.90 381.74,422.90 381.93,422.90 382.12,422.90 382.30,422.90 382.49,422.90 382.68,422.90 382.86,422.90 383.05,422.90 383.24,422.90 383.42,422.90 383.61,422.90 383.80,422.90 383.98,422.90 384.17,422.90 384.36,422.90 384.54,422.90 384.73,422.90 384.92,422.90 385.10,422.90 385.29,422.90 385.48,422.90 385.66,422.90 385.85,422.90 386.03,422.90 386.22,422.90 386.41,422.90 386.59,422.90 386.78,422.90 386.97,422.90 387.15,422.90 387.34,422.90 387.53,422.90 387.71,422.90 387.90,422.90 388.09,422.90 388.27,422.90 388.46,422.90 388.65,422.90 388.83,422.90 389.02,422.90 389.21,422.90 389.39,422.90 389.58,422.90 389.77,422.90 389.95,422.90 390.14,422.90 390.33,422.90 390.51,422.90 390.70,422.90 390.89,422.90 391.07,422.90 391.26,422.90 391.45,422.90 391.63,422.90 391.82,422.90 392.01,422.90 392.19,422.90 392.38,422.90 392.57,422.90 392.75,422.90 392.94,422.90 393.13,422.90 393.31,422.90 393.50,422.90 393.69,422.90 393.87,422.90 394.06,422.90 394.25,422.90 394.43,422.90 394.62,422.90 394.81,422.90 394.99,422.90 395.18,422.90 395.36,422.90 395.55,422.90 395.74,422.90 395.92,422.90 396.11,422.90 396.30,422.90 396.48,422.90 396.67,422.90 396.86,422.90 397.04,422.90 397.23,422.90 397.42,422.90 397.60,422.90 397.79,422.90 397.98,422.90 398.16,422.90 398.35,422.90 398.54,422.90 398.72,422.90 398.91,422.90 399.10,422.90 399.28,422.90 399.47,422.90 399.66,422.90 399.84,422.90 400.03,422.90 400.22,422.90 400.40,422.90 400.59,422.90 400.78,422.90 400.96,422.90 401.15,422.90 401.34,422.90 401.52,422.90 401.71,422.90 401.90,422.90 402.08,422.90 402.27,422.90 402.46,422.90 402.64,422.90 402.83,422.90 403.02,422.90 403.20,422.90 403.39,422.90 403.58,422.90 403.76,422.90 403.95,422.90 404.13,422.90 404.32,422.90 404.51,422.90 404.69,422.90 404.88,422.90 405.07,422.90 405.25,422.90 405.44,422.90 405.63,422.90 405.81,422.90 406.00,422.90 406.19,422.90 406.37,422.90 406.56,422.90 406.75,422.90 406.93,422.90 407.12,422.90 407.31,422.90 407.49,422.90 407.68,422.90 407.87,422.90 408.05,422.90 408.24,422.90 408.43,422.90 408.61,422.90 408.80,422.90" fill="none" stroke="#5ba85b" stroke-width="1.0" stroke-linejoin="round"/>
<text x="6.74" y="274.10" font-size="13.6" textLength="21.46" lengthAdjust="spacingAndGlyphs" fill="#111"> 50</text>
<path d="M515,0 L515,1237 L197,1010 L197,1180 L530,1409 L696,1409 L696,0 Z" transform="translate(6.735,274.100) scale(0.00628,-0.00664)" fill="#111" stroke="#111" stroke-width="33.13"/>
<text x="6.73" y="300.30" font-size="13.6" textLength="21.53" lengthAdjust="spacingAndGlyphs" fill="#111"> 25</text>
<path d="M515,0 L515,1237 L197,1010 L197,1180 L530,1409 L696,1409 L696,0 Z" transform="translate(6.732,300.300) scale(0.00630,-0.00664)" fill="#111" stroke="#111" stroke-width="33.13"/>
<text x="6.71" y="326.30" font-size="13.6" textLength="22.10" lengthAdjust="spacingAndGlyphs" fill="#111"> 00</text>
<path d="M515,0 L515,1237 L197,1010 L197,1180 L530,1409 L696,1409 L696,0 Z" transform="translate(6.706,326.300) scale(0.00647,-0.00664)" fill="#111" stroke="#111" stroke-width="33.13"/>
<text x="12.45" y="352.50" font-size="13.6" textLength="14.39" lengthAdjust="spacingAndGlyphs" fill="#111">75</text>
<text x="12.17" y="378.60" font-size="13.6" textLength="14.62" lengthAdjust="spacingAndGlyphs" fill="#111">50</text>
<text x="11.52" y="404.40" font-size="13.6" textLength="15.16" lengthAdjust="spacingAndGlyphs" fill="#111">25</text>
<text x="16.49" y="431.00" font-size="13.6" textLength="8.46" lengthAdjust="spacingAndGlyphs" fill="#111">0</text>
<text x="29.56" y="453.40" font-size="13.6" textLength="18.82" lengthAdjust="spacingAndGlyphs" fill="#111">0.0</text>
<text x="92.04" y="453.40" font-size="13.6" textLength="19.45" lengthAdjust="spacingAndGlyphs" fill="#111">5.0</text>
<text x="153.62" y="453.40" font-size="13.6" textLength="25.35" lengthAdjust="spacingAndGlyphs" fill="#111"> 0.0</text>
<path d="M515,0 L515,1237 L197,1010 L197,1180 L530,1409 L696,1409 L696,0 Z" transform="translate(153.623,453.400) scale(0.00636,-0.00664)" fill="#111" stroke="#111" stroke-width="33.13"/>
<text x="215.82" y="453.40" font-size="13.6" textLength="25.46" lengthAdjust="spacingAndGlyphs" fill="#111"> 5.0</text>
<path d="M515,0 L515,1237 L197,1010 L197,1180 L530,1409 L696,1409 L696,0 Z" transform="translate(215.819,453.400) scale(0.00639,-0.00664)" fill="#111" stroke="#111" stroke-width="33.13"/>
<text x="277.95" y="453.40" font-size="13.6" textLength="25.32" lengthAdjust="spacingAndGlyphs" fill="#111">20.0</text>
<text x="340.34" y="453.40" font-size="13.6" textLength="25.64" lengthAdjust="spacingAndGlyphs" fill="#111">25.0</text>
<text x="395.61" y="453.40" font-size="13.6" textLength="21.99" lengthAdjust="spacingAndGlyphs" fill="#111">min</text>
<text x="112.95" y="256.40" font-size="13.6" textLength="15.33" lengthAdjust="spacingAndGlyphs" fill="#111">35</text>
<text x="128.23" y="252.00" font-size="7.8" textLength="5.15" lengthAdjust="spacingAndGlyphs" fill="#111">o</text>
<text x="132.90" y="256.40" font-size="13.6" textLength="151.97" lengthAdjust="spacingAndGlyphs" fill="#111">C treatment for  0 hours</text>
<path d="M515,0 L515,1237 L197,1010 L197,1180 L530,1409 L696,1409 L696,0 Z" transform="translate(230.302,256.400) scale(0.00685,-0.00664)" fill="#111" stroke="#111" stroke-width="33.13"/>
<text x="36.54" y="274.80" font-size="14.0" textLength="10.47" lengthAdjust="spacingAndGlyphs" fill="#111">B</text>
<text x="267.83" y="276.00" font-size="13.2" textLength="124.24" lengthAdjust="spacingAndGlyphs" fill="#111">Cyanidin-3-glucoside</text>
<line x1="101.10" y1="493.70" x2="101.10" y2="700.50" stroke="#efefef" stroke-width="1.2"/>
<line x1="162.30" y1="493.70" x2="162.30" y2="700.50" stroke="#efefef" stroke-width="1.2"/>
<line x1="223.50" y1="493.70" x2="223.50" y2="700.50" stroke="#efefef" stroke-width="1.2"/>
<line x1="284.70" y1="493.70" x2="284.70" y2="700.50" stroke="#efefef" stroke-width="1.2"/>
<line x1="345.90" y1="493.70" x2="345.90" y2="700.50" stroke="#efefef" stroke-width="1.2"/>
<line x1="39.90" y1="662.92" x2="406.20" y2="662.92" stroke="#efefef" stroke-width="1.2"/>
<line x1="39.90" y1="631.54" x2="406.20" y2="631.54" stroke="#efefef" stroke-width="1.2"/>
<line x1="39.90" y1="600.16" x2="406.20" y2="600.16" stroke="#efefef" stroke-width="1.2"/>
<line x1="39.90" y1="568.78" x2="406.20" y2="568.78" stroke="#efefef" stroke-width="1.2"/>
<line x1="39.90" y1="537.40" x2="406.20" y2="537.40" stroke="#efefef" stroke-width="1.2"/>
<line x1="39.90" y1="506.02" x2="406.20" y2="506.02" stroke="#efefef" stroke-width="1.2"/>
<line x1="37.30" y1="700.58" x2="39.90" y2="700.58" stroke="#7a7a7a" stroke-width="0.9"/>
<line x1="34.90" y1="694.30" x2="39.90" y2="694.30" stroke="#7a7a7a" stroke-width="0.9"/>
<line x1="37.30" y1="688.02" x2="39.90" y2="688.02" stroke="#7a7a7a" stroke-width="0.9"/>
<line x1="37.30" y1="681.75" x2="39.90" y2="681.75" stroke="#7a7a7a" stroke-width="0.9"/>
<line x1="37.30" y1="675.47" x2="39.90" y2="675.47" stroke="#7a7a7a" stroke-width="0.9"/>
<line x1="37.30" y1="669.20" x2="39.90" y2="669.20" stroke="#7a7a7a" stroke-width="0.9"/>
<line x1="34.90" y1="662.92" x2="39.90" y2="662.92" stroke="#7a7a7a" stroke-width="0.9"/>
<line x1="37.30" y1="656.64" x2="39.90" y2="656.64" stroke="#7a7a7a" stroke-width="0.9"/>
<line x1="37.30" y1="650.37" x2="39.90" y2="650.37" stroke="#7a7a7a" stroke-width="0.9"/>
<line x1="37.30" y1="644.09" x2="39.90" y2="644.09" stroke="#7a7a7a" stroke-width="0.9"/>
<line x1="37.30" y1="637.82" x2="39.90" y2="637.82" stroke="#7a7a7a" stroke-width="0.9"/>
<line x1="34.90" y1="631.54" x2="39.90" y2="631.54" stroke="#7a7a7a" stroke-width="0.9"/>
<line x1="37.30" y1="625.26" x2="39.90" y2="625.26" stroke="#7a7a7a" stroke-width="0.9"/>
<line x1="37.30" y1="618.99" x2="39.90" y2="618.99" stroke="#7a7a7a" stroke-width="0.9"/>
<line x1="37.30" y1="612.71" x2="39.90" y2="612.71" stroke="#7a7a7a" stroke-width="0.9"/>
<line x1="37.30" y1="606.44" x2="39.90" y2="606.44" stroke="#7a7a7a" stroke-width="0.9"/>
<line x1="34.90" y1="600.16" x2="39.90" y2="600.16" stroke="#7a7a7a" stroke-width="0.9"/>
<line x1="37.30" y1="593.88" x2="39.90" y2="593.88" stroke="#7a7a7a" stroke-width="0.9"/>
<line x1="37.30" y1="587.61" x2="39.90" y2="587.61" stroke="#7a7a7a" stroke-width="0.9"/>
<line x1="37.30" y1="581.33" x2="39.90" y2="581.33" stroke="#7a7a7a" stroke-width="0.9"/>
<line x1="37.30" y1="575.06" x2="39.90" y2="575.06" stroke="#7a7a7a" stroke-width="0.9"/>
<line x1="34.90" y1="568.78" x2="39.90" y2="568.78" stroke="#7a7a7a" stroke-width="0.9"/>
<line x1="37.30" y1="562.50" x2="39.90" y2="562.50" stroke="#7a7a7a" stroke-width="0.9"/>
<line x1="37.30" y1="556.23" x2="39.90" y2="556.23" stroke="#7a7a7a" stroke-width="0.9"/>
<line x1="37.30" y1="549.95" x2="39.90" y2="549.95" stroke="#7a7a7a" stroke-width="0.9"/>
<line x1="37.30" y1="543.68" x2="39.90" y2="543.68" stroke="#7a7a7a" stroke-width="0.9"/>
<line x1="34.90" y1="537.40" x2="39.90" y2="537.40" stroke="#7a7a7a" stroke-width="0.9"/>
<line x1="37.30" y1="531.12" x2="39.90" y2="531.12" stroke="#7a7a7a" stroke-width="0.9"/>
<line x1="37.30" y1="524.85" x2="39.90" y2="524.85" stroke="#7a7a7a" stroke-width="0.9"/>
<line x1="37.30" y1="518.57" x2="39.90" y2="518.57" stroke="#7a7a7a" stroke-width="0.9"/>
<line x1="37.30" y1="512.30" x2="39.90" y2="512.30" stroke="#7a7a7a" stroke-width="0.9"/>
<line x1="34.90" y1="506.02" x2="39.90" y2="506.02" stroke="#7a7a7a" stroke-width="0.9"/>
<line x1="37.30" y1="499.74" x2="39.90" y2="499.74" stroke="#7a7a7a" stroke-width="0.9"/>
<line x1="39.90" y1="700.50" x2="39.90" y2="706.50" stroke="#7a7a7a" stroke-width="0.9"/>
<line x1="52.14" y1="700.50" x2="52.14" y2="703.90" stroke="#7a7a7a" stroke-width="0.9"/>
<line x1="64.38" y1="700.50" x2="64.38" y2="703.90" stroke="#7a7a7a" stroke-width="0.9"/>
<line x1="76.62" y1="700.50" x2="76.62" y2="703.90" stroke="#7a7a7a" stroke-width="0.9"/>
<line x1="88.86" y1="700.50" x2="88.86" y2="703.90" stroke="#7a7a7a" stroke-width="0.9"/>
<line x1="101.10" y1="700.50" x2="101.10" y2="706.50" stroke="#7a7a7a" stroke-width="0.9"/>
<line x1="113.34" y1="700.50" x2="113.34" y2="703.90" stroke="#7a7a7a" stroke-width="0.9"/>
<line x1="125.58" y1="700.50" x2="125.58" y2="703.90" stroke="#7a7a7a" stroke-width="0.9"/>
<line x1="137.82" y1="700.50" x2="137.82" y2="703.90" stroke="#7a7a7a" stroke-width="0.9"/>
<line x1="150.06" y1="700.50" x2="150.06" y2="703.90" stroke="#7a7a7a" stroke-width="0.9"/>
<line x1="162.30" y1="700.50" x2="162.30" y2="706.50" stroke="#7a7a7a" stroke-width="0.9"/>
<line x1="174.54" y1="700.50" x2="174.54" y2="703.90" stroke="#7a7a7a" stroke-width="0.9"/>
<line x1="186.78" y1="700.50" x2="186.78" y2="703.90" stroke="#7a7a7a" stroke-width="0.9"/>
<line x1="199.02" y1="700.50" x2="199.02" y2="703.90" stroke="#7a7a7a" stroke-width="0.9"/>
<line x1="211.26" y1="700.50" x2="211.26" y2="703.90" stroke="#7a7a7a" stroke-width="0.9"/>
<line x1="223.50" y1="700.50" x2="223.50" y2="706.50" stroke="#7a7a7a" stroke-width="0.9"/>
<line x1="235.74" y1="700.50" x2="235.74" y2="703.90" stroke="#7a7a7a" stroke-width="0.9"/>
<line x1="247.98" y1="700.50" x2="247.98" y2="703.90" stroke="#7a7a7a" stroke-width="0.9"/>
<line x1="260.22" y1="700.50" x2="260.22" y2="703.90" stroke="#7a7a7a" stroke-width="0.9"/>
<line x1="272.46" y1="700.50" x2="272.46" y2="703.90" stroke="#7a7a7a" stroke-width="0.9"/>
<line x1="284.70" y1="700.50" x2="284.70" y2="706.50" stroke="#7a7a7a" stroke-width="0.9"/>
<line x1="296.94" y1="700.50" x2="296.94" y2="703.90" stroke="#7a7a7a" stroke-width="0.9"/>
<line x1="309.18" y1="700.50" x2="309.18" y2="703.90" stroke="#7a7a7a" stroke-width="0.9"/>
<line x1="321.42" y1="700.50" x2="321.42" y2="703.90" stroke="#7a7a7a" stroke-width="0.9"/>
<line x1="333.66" y1="700.50" x2="333.66" y2="703.90" stroke="#7a7a7a" stroke-width="0.9"/>
<line x1="345.90" y1="700.50" x2="345.90" y2="706.50" stroke="#7a7a7a" stroke-width="0.9"/>
<line x1="358.14" y1="700.50" x2="358.14" y2="703.90" stroke="#7a7a7a" stroke-width="0.9"/>
<line x1="370.38" y1="700.50" x2="370.38" y2="703.90" stroke="#7a7a7a" stroke-width="0.9"/>
<line x1="382.62" y1="700.50" x2="382.62" y2="703.90" stroke="#7a7a7a" stroke-width="0.9"/>
<line x1="394.86" y1="700.50" x2="394.86" y2="703.90" stroke="#7a7a7a" stroke-width="0.9"/>
<line x1="406.20" y1="700.50" x2="406.20" y2="706.50" stroke="#7a7a7a" stroke-width="0.9"/>
<rect x="39.90" y="493.70" width="366.30" height="206.80" stroke="#7a7a7a" stroke-width="1.2" fill="none"/>
<polyline points="39.90,694.00 40.08,694.00 40.27,694.00 40.45,694.00 40.63,694.00 40.82,694.00 41.00,694.00 41.18,694.00 41.37,694.00 41.55,694.00 41.73,694.00 41.91,694.00 42.10,694.00 42.28,694.00 42.46,694.00 42.65,694.00 42.83,694.00 43.01,694.00 43.20,694.00 43.38,694.00 43.56,694.00 43.75,694.00 43.93,694.00 44.11,694.00 44.30,694.00 44.48,694.00 44.66,694.00 44.85,694.00 45.03,694.00 45.21,694.00 45.39,694.00 45.58,694.00 45.76,694.00 45.94,694.00 46.13,694.00 46.31,694.00 46.49,694.00 46.68,694.00 46.86,694.00 47.04,694.00 47.23,694.00 47.41,694.00 47.59,694.00 47.78,694.00 47.96,694.00 48.14,694.00 48.32,694.00 48.51,694.00 48.69,694.00 48.87,694.00 49.06,694.00 49.24,694.00 49.42,694.00 49.61,694.00 49.79,694.00 49.97,694.00 50.16,694.00 50.34,694.00 50.52,694.00 50.71,694.00 50.89,694.00 51.07,694.00 51.26,694.00 51.44,694.00 51.62,694.00 51.80,694.00 51.99,694.00 52.17,694.00 52.35,694.00 52.54,694.00 52.72,694.00 52.90,694.00 53.09,694.00 53.27,694.00 53.45,694.00 53.64,694.00 53.82,694.00 54.00,694.00 54.19,694.00 54.37,694.00 54.55,694.00 54.74,694.00 54.92,694.00 55.10,694.00 55.28,694.00 55.47,694.00 55.65,694.00 55.83,694.00 56.02,694.00 56.20,694.00 56.38,694.00 56.57,694.00 56.75,694.00 56.93,694.00 57.12,694.00 57.30,694.00 57.48,694.00 57.67,694.00 57.85,694.00 58.03,694.00 58.22,694.00 58.40,694.00 58.58,694.00 58.76,694.00 58.95,694.00 59.13,694.00 59.31,694.00 59.50,694.00 59.68,694.00 59.86,694.00 60.05,694.00 60.23,694.00 60.41,694.00 60.60,694.00 60.78,694.00 60.96,694.00 61.15,694.00 61.33,694.00 61.51,694.00 61.69,694.00 61.88,694.00 62.06,694.00 62.24,694.00 62.43,694.00 62.61,694.00 62.79,694.00 62.98,694.00 63.16,694.00 63.34,694.00 63.53,694.00 63.71,694.00 63.89,694.00 64.08,694.00 64.26,694.00 64.44,694.00 64.63,694.00 64.81,694.00 64.99,694.00 65.17,694.00 65.36,694.00 65.54,694.00 65.72,694.00 65.91,694.00 66.09,694.00 66.27,694.00 66.46,694.00 66.64,694.00 66.82,694.00 67.01,694.00 67.19,694.00 67.37,694.00 67.56,694.00 67.74,694.00 67.92,694.00 68.11,694.00 68.29,694.00 68.47,694.00 68.65,694.00 68.84,694.00 69.02,694.00 69.20,694.00 69.39,694.00 69.57,694.00 69.75,694.00 69.94,694.00 70.12,694.00 70.30,694.00 70.49,694.00 70.67,694.00 70.85,694.00 71.04,694.00 71.22,694.00 71.40,694.00 71.58,694.00 71.77,694.00 71.95,694.00 72.13,694.00 72.32,694.00 72.50,694.00 72.68,694.00 72.87,694.00 73.05,694.00 73.23,694.00 73.42,694.00 73.60,694.00 73.78,694.00 73.97,694.00 74.15,694.00 74.23,694.00 75.33,692.74 75.70,679.57 76.43,690.86 77.17,687.10 77.91,697.51 78.64,697.26 79.38,693.25 80.60,694.00 80.74,694.00 80.93,694.00 81.11,694.00 81.29,694.00 81.48,694.00 81.66,694.00 81.84,694.00 82.02,694.00 82.21,694.00 82.39,694.00 82.57,694.00 82.76,694.00 82.94,694.00 83.12,694.00 83.31,694.00 83.49,694.00 83.67,694.00 83.86,694.00 84.04,694.00 84.22,694.00 84.41,694.00 84.59,694.00 84.77,694.00 84.95,694.00 85.14,694.00 85.32,694.00 85.50,694.00 85.69,694.00 85.87,694.00 86.05,694.00 86.24,694.00 86.42,694.00 86.60,694.00 86.79,694.00 86.97,694.00 87.15,694.00 87.34,694.00 87.52,694.00 87.70,694.00 87.89,694.00 88.07,693.99 88.25,693.99 88.43,693.98 88.62,693.96 88.80,693.94 88.98,693.90 89.17,693.85 89.35,693.78 89.53,693.69 89.72,693.57 89.90,693.43 90.08,693.28 90.27,693.11 90.45,692.94 90.63,692.78 90.82,692.65 91.00,692.55 91.18,692.50 91.37,692.50 91.55,692.55 91.73,692.65 91.91,692.79 92.10,692.95 92.28,693.12 92.46,693.28 92.65,693.44 92.83,693.58 93.01,693.69 93.20,693.78 93.38,693.85 93.56,693.90 93.75,693.94 93.93,693.96 94.11,693.98 94.30,693.99 94.48,693.99 94.66,693.99 94.84,694.00 95.03,693.99 95.21,693.99 95.39,693.99 95.58,693.98 95.76,693.97 95.94,693.95 96.13,693.92 96.31,693.88 96.49,693.82 96.68,693.74 96.86,693.63 97.04,693.49 97.23,693.31 97.41,693.09 97.59,692.83 97.78,692.52 97.96,692.17 98.14,691.79 98.32,691.38 98.51,690.97 98.69,690.58 98.87,690.22 99.06,689.91 99.24,689.68 99.42,689.53 99.61,689.48 99.79,689.53 99.97,689.68 100.16,689.91 100.34,690.22 100.52,690.58 100.71,690.98 100.89,691.39 101.07,691.79 101.26,692.17 101.44,692.52 101.62,692.83 101.80,693.09 101.99,693.32 102.17,693.49 102.35,693.63 102.54,693.74 102.72,693.82 102.90,693.88 103.09,693.92 103.27,693.95 103.45,693.97 103.64,693.98 103.82,693.99 104.00,693.99 104.19,694.00 104.37,694.00 104.55,694.00 104.74,694.00 104.92,694.00 105.10,694.00 105.28,694.00 105.47,694.00 105.65,694.00 105.83,694.00 106.02,694.00 106.20,694.00 106.38,694.00 106.57,694.00 106.75,694.00 106.93,694.00 107.12,694.00 107.30,694.00 107.48,694.00 107.67,694.00 107.85,694.00 108.03,694.00 108.21,694.00 108.40,694.00 108.58,694.00 108.76,694.00 108.95,694.00 109.13,694.00 109.31,694.00 109.50,694.00 109.68,694.00 109.86,694.00 110.05,694.00 110.23,694.00 110.41,694.00 110.60,694.00 110.78,694.00 110.96,694.00 111.15,694.00 111.33,694.00 111.51,694.00 111.69,694.00 111.88,694.00 112.06,694.00 112.24,694.00 112.43,694.00 112.61,694.00 112.79,694.00 112.98,694.00 113.16,694.00 113.34,694.00 113.53,694.00 113.71,694.00 113.89,694.00 114.08,694.00 114.26,694.00 114.44,694.00 114.63,694.00 114.81,694.00 114.99,694.00 115.17,694.00 115.36,694.00 115.54,694.00 115.72,694.00 115.91,694.00 116.09,694.00 116.27,694.00 116.46,694.00 116.64,694.00 116.82,694.00 117.01,694.00 117.19,694.00 117.37,694.00 117.56,694.00 117.74,694.00 117.92,694.00 118.11,694.00 118.29,694.00 118.47,694.00 118.65,694.00 118.84,694.00 119.02,694.00 119.20,694.00 119.39,694.00 119.57,694.00 119.75,694.00 119.94,694.00 120.12,694.00 120.30,694.00 120.49,694.00 120.67,694.00 120.85,694.00 121.04,694.00 121.22,694.00 121.40,694.00 121.58,694.00 121.77,694.00 121.95,694.00 122.13,694.00 122.32,694.00 122.50,694.00 122.68,694.00 122.87,693.99 123.05,693.99 123.23,693.98 123.42,693.96 123.60,693.94 123.78,693.90 123.97,693.83 124.15,693.73 124.33,693.59 124.52,693.40 124.70,693.14 124.88,692.82 125.06,692.44 125.25,692.00 125.43,691.53 125.61,691.05 125.80,690.59 125.98,690.20 126.16,689.92 126.35,689.76 126.53,689.74 126.71,689.88 126.90,690.14 127.08,690.51 127.26,690.96 127.45,691.44 127.63,691.91 127.81,692.36 128.00,692.76 128.18,693.09 128.36,693.35 128.54,693.56 128.73,693.71 128.91,693.81 129.09,693.89 129.28,693.93 129.46,693.96 129.64,693.98 129.83,693.99 130.01,693.99 130.19,694.00 130.38,694.00 130.56,694.00 130.74,694.00 130.93,694.00 131.11,694.00 131.29,694.00 131.47,694.00 131.66,694.00 131.84,694.00 132.02,694.00 132.21,694.00 132.39,694.00 132.57,694.00 132.76,694.00 132.94,694.00 133.12,694.00 133.31,694.00 133.49,694.00 133.67,694.00 133.86,694.00 134.04,694.00 134.22,694.00 134.41,694.00 134.59,694.00 134.77,694.00 134.95,694.00 135.14,694.00 135.32,694.00 135.50,694.00 135.69,694.00 135.87,694.00 136.05,694.00 136.24,694.00 136.42,694.00 136.60,694.00 136.79,694.00 136.97,694.00 137.15,694.00 137.34,694.00 137.52,694.00 137.70,694.00 137.89,694.00 138.07,694.00 138.25,694.00 138.43,694.00 138.62,694.00 138.80,694.00 138.98,694.00 139.17,694.00 139.35,694.00 139.53,694.00 139.72,694.00 139.90,694.00 140.08,694.00 140.27,694.00 140.45,694.00 140.63,694.00 140.82,694.00 141.00,694.00 141.18,694.00 141.37,694.00 141.55,694.00 141.73,694.00 141.91,694.00 142.10,694.00 142.28,694.00 142.46,694.00 142.65,694.00 142.83,694.00 143.01,694.00 143.20,694.00 143.38,694.00 143.56,694.00 143.75,694.00 143.93,694.00 144.11,694.00 144.30,694.00 144.48,694.00 144.66,694.00 144.84,694.00 145.03,694.00 145.21,694.00 145.39,694.00 145.58,694.00 145.76,694.00 145.94,694.00 146.13,694.00 146.31,694.00 146.49,694.00 146.68,694.00 146.86,694.00 147.04,694.00 147.23,694.00 147.41,694.00 147.59,694.00 147.78,694.00 147.96,694.00 148.14,694.00 148.32,694.00 148.51,694.00 148.69,693.99 148.87,693.99 149.06,693.99 149.24,693.99 149.42,693.99 149.61,693.99 149.79,693.98 149.97,693.98 150.16,693.98 150.34,693.97 150.52,693.97 150.71,693.96 150.89,693.95 151.07,693.94 151.26,693.94 151.44,693.93 151.62,693.92 151.80,693.91 151.99,693.89 152.17,693.88 152.35,693.87 152.54,693.85 152.72,693.84 152.90,693.82 153.09,693.80 153.27,693.79 153.45,693.77 153.64,693.75 153.82,693.74 154.00,693.72 154.19,693.70 154.37,693.69 154.55,693.67 154.74,693.66 154.92,693.65 155.10,693.64 155.28,693.63 155.47,693.63 155.65,693.63 155.83,693.62 156.02,693.62 156.20,693.63 156.38,693.63 156.57,693.64 156.75,693.65 156.93,693.66 157.12,693.67 157.30,693.68 157.48,693.70 157.67,693.71 157.85,693.73 158.03,693.74 158.21,693.76 158.40,693.78 158.58,693.79 158.76,693.81 158.95,693.83 159.13,693.84 159.31,693.86 159.50,693.87 159.68,693.89 159.86,693.90 160.05,693.91 160.23,693.92 160.41,693.93 160.60,693.94 160.78,693.95 160.96,693.96 161.15,693.96 161.33,693.97 161.51,693.97 161.69,693.98 161.88,693.98 162.06,693.98 162.24,693.99 162.43,693.99 162.61,693.99 162.79,693.99 162.98,693.99 163.16,694.00 163.34,694.00 163.53,694.00 163.71,694.00 163.89,694.00 164.08,694.00 164.26,694.00 164.44,694.00 164.63,694.00 164.81,694.00 164.99,694.00 165.17,694.00 165.36,694.00 165.54,694.00 165.72,694.00 165.91,694.00 166.09,694.00 166.27,694.00 166.46,694.00 166.64,694.00 166.82,694.00 167.01,694.00 167.19,694.00 167.37,694.00 167.56,694.00 167.74,694.00 167.92,694.00 168.11,694.00 168.29,694.00 168.47,694.00 168.65,694.00 168.84,694.00 169.02,694.00 169.20,694.00 169.39,694.00 169.57,694.00 169.75,694.00 169.94,694.00 170.12,694.00 170.30,694.00 170.49,694.00 170.67,694.00 170.85,694.00 171.04,694.00 171.22,694.00 171.40,694.00 171.58,694.00 171.77,694.00 171.95,694.00 172.13,694.00 172.32,694.00 172.50,694.00 172.68,694.00 172.87,694.00 173.05,694.00 173.23,694.00 173.42,694.00 173.60,694.00 173.78,694.00 173.97,694.00 174.15,694.00 174.33,694.00 174.52,694.00 174.70,694.00 174.88,694.00 175.06,694.00 175.25,694.00 175.43,694.00 175.61,694.00 175.80,693.99 175.98,693.99 176.16,693.99 176.35,693.99 176.53,693.99 176.71,693.99 176.90,693.99 177.08,693.99 177.26,693.98 177.45,693.98 177.63,693.98 177.81,693.98 178.00,693.97 178.18,693.97 178.36,693.97 178.54,693.96 178.73,693.96 178.91,693.96 179.09,693.95 179.28,693.95 179.46,693.94 179.64,693.93 179.83,693.93 180.01,693.92 180.19,693.91 180.38,693.91 180.56,693.90 180.74,693.89 180.93,693.88 181.11,693.87 181.29,693.86 181.47,693.85 181.66,693.84 181.84,693.83 182.02,693.82 182.21,693.81 182.39,693.80 182.57,693.79 182.76,693.78 182.94,693.77 183.12,693.75 183.31,693.74 183.49,693.73 183.67,693.72 183.86,693.71 184.04,693.70 184.22,693.69 184.41,693.68 184.59,693.67 184.77,693.66 184.95,693.66 185.14,693.65 185.32,693.64 185.50,693.64 185.69,693.63 185.87,693.63 186.05,693.63 186.24,693.62 186.42,693.62 186.60,693.62 186.79,693.62 186.97,693.63 187.15,693.63 187.34,693.63 187.52,693.64 187.70,693.64 187.89,693.65 188.07,693.65 188.25,693.66 188.43,693.67 188.62,693.68 188.80,693.69 188.98,693.70 189.17,693.71 189.35,693.72 189.53,693.73 189.72,693.74 189.90,693.75 190.08,693.76 190.27,693.78 190.45,693.79 190.63,693.80 190.82,693.81 191.00,693.82 191.18,693.83 191.37,693.84 191.55,693.85 191.73,693.86 191.91,693.87 192.10,693.88 192.28,693.89 192.46,693.90 192.65,693.91 192.83,693.91 193.01,693.92 193.20,693.93 193.38,693.93 193.56,693.94 193.75,693.95 193.93,693.95 194.11,693.96 194.30,693.96 194.48,693.96 194.66,693.97 194.84,693.97 195.03,693.97 195.21,693.98 195.39,693.98 195.58,693.98 195.76,693.98 195.94,693.99 196.13,693.99 196.31,693.99 196.49,693.99 196.68,693.99 196.86,693.99 197.04,693.99 197.23,693.99 197.41,694.00 197.59,694.00 197.78,694.00 197.96,694.00 198.14,694.00 198.32,694.00 198.51,694.00 198.69,694.00 198.87,694.00 199.06,694.00 199.24,694.00 199.42,694.00 199.61,694.00 199.79,694.00 199.97,694.00 200.16,694.00 200.34,694.00 200.52,694.00 200.71,694.00 200.89,694.00 201.07,694.00 201.26,694.00 201.44,694.00 201.62,694.00 201.80,694.00 201.99,694.00 202.17,694.00 202.35,694.00 202.54,694.00 202.72,694.00 202.90,694.00 203.09,694.00 203.27,694.00 203.45,694.00 203.64,694.00 203.82,694.00 204.00,694.00 204.19,694.00 204.37,694.00 204.55,694.00 204.73,694.00 204.92,694.00 205.10,694.00 205.28,694.00 205.47,694.00 205.65,694.00 205.83,694.00 206.02,694.00 206.20,694.00 206.38,694.00 206.57,694.00 206.75,694.00 206.93,694.00 207.12,694.00 207.30,694.00 207.48,694.00 207.67,694.00 207.85,694.00 208.03,694.00 208.21,694.00 208.40,694.00 208.58,694.00 208.76,694.00 208.95,694.00 209.13,694.00 209.31,694.00 209.50,694.00 209.68,694.00 209.86,694.00 210.05,694.00 210.23,694.00 210.41,694.00 210.60,694.00 210.78,694.00 210.96,694.00 211.15,694.00 211.33,694.00 211.51,694.00 211.69,694.00 211.88,694.00 212.06,694.00 212.24,694.00 212.43,694.00 212.61,694.00 212.79,694.00 212.98,694.00 213.16,694.00 213.34,694.00 213.53,694.00 213.71,694.00 213.89,694.00 214.08,694.00 214.26,694.00 214.44,694.00 214.63,694.00 214.81,694.00 214.99,694.00 215.17,694.00 215.36,694.00 215.54,694.00 215.72,694.00 215.91,694.00 216.09,694.00 216.27,694.00 216.46,694.00 216.64,694.00 216.82,694.00 217.01,694.00 217.19,694.00 217.37,694.00 217.56,694.00 217.74,694.00 217.92,694.00 218.10,694.00 218.29,694.00 218.47,694.00 218.65,694.00 218.84,694.00 219.02,694.00 219.20,694.00 219.39,694.00 219.57,694.00 219.75,694.00 219.94,694.00 220.12,694.00 220.30,694.00 220.49,694.00 220.67,694.00 220.85,694.00 221.04,694.00 221.22,694.00 221.40,694.00 221.58,694.00 221.77,694.00 221.95,694.00 222.13,694.00 222.32,694.00 222.50,694.00 222.68,694.00 222.87,694.00 223.05,694.00 223.23,694.00 223.42,694.00 223.60,694.00 223.78,694.00 223.97,694.00 224.15,694.00 224.33,694.00 224.52,694.00 224.70,694.00 224.88,694.00 225.06,694.00 225.25,694.00 225.43,694.00 225.61,694.00 225.80,694.00 225.98,694.00 226.16,694.00 226.35,694.00 226.53,694.00 226.71,694.00 226.90,694.00 227.08,694.00 227.26,694.00 227.45,694.00 227.63,694.00 227.81,694.00 228.00,694.00 228.18,694.00 228.36,694.00 228.54,694.00 228.73,694.00 228.91,694.00 229.09,694.00 229.28,694.00 229.46,694.00 229.64,694.00 229.83,694.00 230.01,694.00 230.19,694.00 230.38,694.00 230.56,694.00 230.74,694.00 230.93,694.00 231.11,694.00 231.29,694.00 231.47,694.00 231.66,693.99 231.84,693.99 232.02,693.98 232.21,693.97 232.39,693.96 232.57,693.94 232.76,693.92 232.94,693.89 233.12,693.85 233.31,693.79 233.49,693.73 233.67,693.66 233.86,693.57 234.04,693.48 234.22,693.38 234.41,693.28 234.59,693.18 234.77,693.09 234.95,693.00 235.14,692.94 235.32,692.89 235.50,692.87 235.69,692.88 235.87,692.90 236.05,692.96 236.24,693.03 236.42,693.11 236.60,693.21 236.79,693.31 236.97,693.41 237.15,693.51 237.34,693.60 237.52,693.68 237.70,693.75 237.89,693.81 238.07,693.86 238.25,693.90 238.43,693.93 238.62,693.95 238.80,693.96 238.98,693.98 239.17,693.98 239.35,693.99 239.53,693.99 239.72,694.00 239.90,694.00 240.08,694.00 240.27,694.00 240.45,694.00 240.63,694.00 240.82,694.00 241.00,694.00 241.18,694.00 241.37,694.00 241.55,694.00 241.73,694.00 241.91,694.00 242.10,694.00 242.28,694.00 242.46,694.00 242.65,694.00 242.83,694.00 243.01,694.00 243.20,694.00 243.38,694.00 243.56,694.00 243.75,694.00 243.93,694.00 244.11,694.00 244.30,694.00 244.48,694.00 244.66,694.00 244.84,694.00 245.03,694.00 245.21,694.00 245.39,694.00 245.58,694.00 245.76,694.00 245.94,694.00 246.13,694.00 246.31,694.00 246.49,694.00 246.68,694.00 246.86,694.00 247.04,694.00 247.23,694.00 247.41,694.00 247.59,694.00 247.78,694.00 247.96,694.00 248.14,694.00 248.32,694.00 248.51,694.00 248.69,694.00 248.87,694.00 249.06,694.00 249.24,694.00 249.42,694.00 249.61,694.00 249.79,694.00 249.97,694.00 250.16,694.00 250.34,694.00 250.52,694.00 250.71,694.00 250.89,694.00 251.07,694.00 251.26,694.00 251.44,694.00 251.62,694.00 251.80,694.00 251.99,694.00 252.17,694.00 252.35,694.00 252.54,694.00 252.72,694.00 252.90,694.00 253.09,694.00 253.27,694.00 253.45,694.00 253.64,694.00 253.82,694.00 254.00,694.00 254.19,694.00 254.37,694.00 254.55,694.00 254.73,694.00 254.92,694.00 255.10,694.00 255.28,694.00 255.47,694.00 255.65,694.00 255.83,694.00 256.02,694.00 256.20,694.00 256.38,694.00 256.57,694.00 256.75,694.00 256.93,694.00 257.12,694.00 257.30,694.00 257.48,694.00 257.67,694.00 257.85,694.00 258.03,694.00 258.21,694.00 258.40,694.00 258.58,694.00 258.76,694.00 258.95,694.00 259.13,694.00 259.31,694.00 259.50,694.00 259.68,694.00 259.86,694.00 260.05,694.00 260.23,694.00 260.41,694.00 260.60,694.00 260.78,694.00 260.96,694.00 261.15,694.00 261.33,693.99 261.51,693.99 261.69,693.98 261.88,693.96 262.06,693.93 262.24,693.89 262.43,693.83 262.61,693.74 262.79,693.62 262.98,693.44 263.16,693.21 263.34,692.90 263.53,692.50 263.71,692.00 263.89,691.39 264.08,690.67 264.26,689.85 264.44,688.94 264.63,687.97 264.81,686.97 264.99,685.99 265.17,685.07 265.36,684.27 265.54,683.62 265.72,683.18 265.91,682.97 266.09,683.00 266.27,683.28 266.46,683.78 266.64,684.47 266.82,685.31 267.01,686.25 267.19,687.24 267.37,688.23 267.56,689.19 267.74,690.08 267.92,690.87 268.10,691.56 268.29,692.14 268.47,692.61 268.65,692.99 268.84,693.28 269.02,693.50 269.20,693.66 269.39,693.77 269.57,693.85 269.75,693.90 269.94,693.94 270.12,693.96 270.30,693.98 270.49,693.99 270.67,693.99 270.85,694.00 271.04,694.00 271.22,694.00 271.40,694.00 271.58,694.00 271.77,694.00 271.95,694.00 272.13,694.00 272.32,694.00 272.50,694.00 272.68,694.00 272.87,694.00 273.05,694.00 273.23,694.00 273.42,694.00 273.60,694.00 273.78,694.00 273.97,694.00 274.15,694.00 274.33,694.00 274.52,694.00 274.70,694.00 274.88,694.00 275.06,694.00 275.25,694.00 275.43,694.00 275.61,694.00 275.80,694.00 275.98,694.00 276.16,694.00 276.35,694.00 276.53,694.00 276.71,694.00 276.90,694.00 277.08,694.00 277.26,694.00 277.45,694.00 277.63,694.00 277.81,694.00 278.00,694.00 278.18,694.00 278.36,694.00 278.54,694.00 278.73,694.00 278.91,694.00 279.09,694.00 279.28,694.00 279.46,694.00 279.64,694.00 279.83,694.00 280.01,694.00 280.19,694.00 280.38,694.00 280.56,694.00 280.74,694.00 280.93,694.00 281.11,694.00 281.29,694.00 281.47,694.00 281.66,694.00 281.84,694.00 282.02,694.00 282.21,694.00 282.39,694.00 282.57,694.00 282.76,694.00 282.94,694.00 283.12,694.00 283.31,694.00 283.49,694.00 283.67,694.00 283.86,694.00 284.04,694.00 284.22,694.00 284.41,694.00 284.59,694.00 284.77,694.00 284.95,694.00 285.14,694.00 285.32,694.00 285.50,694.00 285.69,694.00 285.87,694.00 286.05,694.00 286.24,694.00 286.42,694.00 286.60,694.00 286.79,694.00 286.97,694.00 287.15,694.00 287.34,694.00 287.52,694.00 287.70,694.00 287.89,694.00 288.07,694.00 288.25,694.00 288.43,694.00 288.62,694.00 288.80,694.00 288.98,694.00 289.17,694.00 289.35,694.00 289.53,694.00 289.72,694.00 289.90,694.00 290.08,694.00 290.27,694.00 290.45,694.00 290.63,694.00 290.82,694.00 291.00,694.00 291.18,694.00 291.36,694.00 291.55,694.00 291.73,694.00 291.91,694.00 292.10,694.00 292.28,694.00 292.46,694.00 292.65,694.00 292.83,694.00 293.01,694.00 293.20,694.00 293.38,694.00 293.56,694.00 293.75,694.00 293.93,694.00 294.11,694.00 294.30,694.00 294.48,694.00 294.66,694.00 294.84,694.00 295.03,694.00 295.21,694.00 295.39,694.00 295.58,694.00 295.76,694.00 295.94,694.00 296.13,694.00 296.31,694.00 296.49,694.00 296.68,694.00 296.86,694.00 297.04,694.00 297.23,694.00 297.41,694.00 297.59,694.00 297.78,694.00 297.96,694.00 298.14,694.00 298.32,694.00 298.51,694.00 298.69,694.00 298.87,694.00 299.06,694.00 299.24,694.00 299.42,694.00 299.61,694.00 299.79,694.00 299.97,694.00 300.16,694.00 300.34,694.00 300.52,694.00 300.71,694.00 300.89,694.00 301.07,694.00 301.26,694.00 301.44,694.00 301.62,694.00 301.80,694.00 301.99,694.00 302.17,694.00 302.35,694.00 302.54,694.00 302.72,694.00 302.90,694.00 303.09,694.00 303.27,694.00 303.45,694.00 303.64,694.00 303.82,694.00 304.00,694.00 304.19,694.00 304.37,694.00 304.55,694.00 304.73,694.00 304.92,694.00 305.10,694.00 305.28,694.00 305.47,694.00 305.65,694.00 305.83,694.00 306.02,694.00 306.20,694.00 306.38,694.00 306.57,694.00 306.75,694.00 306.93,694.00 307.12,694.00 307.30,694.00 307.48,694.00 307.67,694.00 307.85,694.00 308.03,694.00 308.21,694.00 308.40,694.00 308.58,694.00 308.76,694.00 308.95,694.00 309.13,694.00 309.31,694.00 309.50,694.00 309.68,694.00 309.86,694.00 310.05,694.00 310.23,694.00 310.41,694.00 310.60,694.00 310.78,694.00 310.96,694.00 311.15,694.00 311.33,694.00 311.51,694.00 311.69,694.00 311.88,694.00 312.06,694.00 312.24,694.00 312.43,694.00 312.61,694.00 312.79,694.00 312.98,694.00 313.16,694.00 313.34,694.00 313.53,694.00 313.71,694.00 313.89,694.00 314.08,694.00 314.26,694.00 314.44,694.00 314.62,694.00 314.81,694.00 314.99,694.00 315.17,694.00 315.36,694.00 315.54,694.00 315.72,694.00 315.91,694.00 316.09,694.00 316.27,694.00 316.46,694.00 316.64,694.00 316.82,694.00 317.01,694.00 317.19,694.00 317.37,694.00 317.56,694.00 317.74,694.00 317.92,694.00 318.10,694.00 318.29,694.00 318.47,694.00 318.65,694.00 318.84,694.00 319.02,694.00 319.20,694.00 319.39,694.00 319.57,694.00 319.75,694.00 319.94,694.00 320.12,694.00 320.30,694.00 320.49,694.00 320.67,694.00 320.85,694.00 321.04,694.00 321.22,694.00 321.40,694.00 321.58,694.00 321.77,694.00 321.95,694.00 322.13,694.00 322.32,694.00 322.50,694.00 322.68,694.00 322.87,694.00 323.05,694.00 323.23,694.00 323.42,694.00 323.60,694.00 323.78,694.00 323.97,694.00 324.15,694.00 324.33,694.00 324.52,694.00 324.70,694.00 324.88,694.00 325.06,694.00 325.25,694.00 325.43,694.00 325.61,694.00 325.80,694.00 325.98,694.00 326.16,694.00 326.35,694.00 326.53,694.00 326.71,694.00 326.90,694.00 327.08,694.00 327.26,694.00 327.45,694.00 327.63,694.00 327.81,694.00 327.99,694.00 328.18,694.00 328.36,694.00 328.54,694.00 328.73,694.00 328.91,694.00 329.09,694.00 329.28,694.00 329.46,694.00 329.64,694.00 329.83,694.00 330.01,694.00 330.19,694.00 330.38,694.00 330.56,694.00 330.74,694.00 330.93,694.00 331.11,694.00 331.29,694.00 331.47,693.99 331.66,693.99 331.84,693.99 332.02,693.98 332.21,693.97 332.39,693.96 332.57,693.95 332.76,693.93 332.94,693.91 333.12,693.89 333.31,693.86 333.49,693.82 333.67,693.78 333.86,693.73 334.04,693.67 334.22,693.61 334.41,693.55 334.59,693.48 334.77,693.42 334.95,693.35 335.14,693.29 335.32,693.24 335.50,693.19 335.69,693.16 335.87,693.13 336.05,693.12 336.24,693.13 336.42,693.14 336.60,693.17 336.79,693.21 336.97,693.26 337.15,693.32 337.34,693.38 337.52,693.45 337.70,693.51 337.89,693.58 338.07,693.64 338.25,693.70 338.43,693.75 338.62,693.80 338.80,693.84 338.98,693.87 339.17,693.90 339.35,693.92 339.53,693.94 339.72,693.96 339.90,693.97 340.08,693.98 340.27,693.98 340.45,693.99 340.63,693.99 340.82,693.99 341.00,694.00 341.18,694.00 341.36,694.00 341.55,694.00 341.73,694.00 341.91,694.00 342.10,694.00 342.28,694.00 342.46,694.00 342.65,694.00 342.83,694.00 343.01,694.00 343.20,694.00 343.38,694.00 343.56,694.00 343.75,694.00 343.93,694.00 344.11,694.00 344.30,694.00 344.48,694.00 344.66,694.00 344.84,694.00 345.03,694.00 345.21,694.00 345.39,694.00 345.58,694.00 345.76,694.00 345.94,694.00 346.13,694.00 346.31,694.00 346.49,694.00 346.68,694.00 346.86,694.00 347.04,694.00 347.23,694.00 347.41,694.00 347.59,694.00 347.78,694.00 347.96,694.00 348.14,694.00 348.32,694.00 348.51,694.00 348.69,694.00 348.87,694.00 349.06,694.00 349.24,694.00 349.42,694.00 349.61,694.00 349.79,694.00 349.97,694.00 350.16,694.00 350.34,694.00 350.52,694.00 350.71,694.00 350.89,694.00 351.07,694.00 351.25,694.00 351.44,694.00 351.62,694.00 351.80,694.00 351.99,694.00 352.17,694.00 352.35,694.00 352.54,694.00 352.72,694.00 352.90,694.00 353.09,694.00 353.27,694.00 353.45,694.00 353.64,694.00 353.82,694.00 354.00,694.00 354.19,694.00 354.37,694.00 354.55,694.00 354.73,694.00 354.92,694.00 355.10,694.00 355.28,694.00 355.47,694.00 355.65,694.00 355.83,694.00 356.02,694.00 356.20,694.00 356.38,694.00 356.57,694.00 356.75,694.00 356.93,694.00 357.12,694.00 357.30,694.00 357.48,694.00 357.67,694.00 357.85,694.00 358.03,694.00 358.21,694.00 358.40,694.00 358.58,694.00 358.76,694.00 358.95,694.00 359.13,694.00 359.31,694.00 359.50,694.00 359.68,694.00 359.86,694.00 360.05,694.00 360.23,694.00 360.41,694.00 360.60,694.00 360.78,694.00 360.96,694.00 361.15,694.00 361.33,694.00 361.51,694.00 361.69,694.00 361.88,694.00 362.06,694.00 362.24,694.00 362.43,694.00 362.61,694.00 362.79,694.00 362.98,694.00 363.16,694.00 363.34,694.00 363.53,694.00 363.71,694.00 363.89,694.00 364.08,694.00 364.26,694.00 364.44,694.00 364.62,694.00 364.81,694.00 364.99,694.00 365.17,694.00 365.36,694.00 365.54,694.00 365.72,694.00 365.91,694.00 366.09,694.00 366.27,694.00 366.46,694.00 366.64,694.00 366.82,694.00 367.01,694.00 367.19,694.00 367.37,694.00 367.56,694.00 367.74,694.00 367.92,694.00 368.10,694.00 368.29,694.00 368.47,694.00 368.65,694.00 368.84,694.00 369.02,694.00 369.20,694.00 369.39,694.00 369.57,694.00 369.75,694.00 369.94,694.00 370.12,694.00 370.30,694.00 370.49,694.00 370.67,694.00 370.85,694.00 371.04,694.00 371.22,694.00 371.40,694.00 371.58,694.00 371.77,694.00 371.95,694.00 372.13,694.00 372.32,694.00 372.50,694.00 372.68,694.00 372.87,694.00 373.05,694.00 373.23,694.00 373.42,694.00 373.60,694.00 373.78,694.00 373.97,694.00 374.15,694.00 374.33,694.00 374.52,694.00 374.70,694.00 374.88,694.00 375.06,694.00 375.25,694.00 375.43,694.00 375.61,694.00 375.80,694.00 375.98,694.00 376.16,694.00 376.35,694.00 376.53,694.00 376.71,694.00 376.90,694.00 377.08,694.00 377.26,694.00 377.45,694.00 377.63,693.99 377.81,693.99 377.99,693.99 378.18,693.98 378.36,693.97 378.54,693.96 378.73,693.94 378.91,693.91 379.09,693.88 379.28,693.85 379.46,693.80 379.64,693.75 379.83,693.69 380.01,693.63 380.19,693.56 380.38,693.49 380.56,693.43 380.74,693.37 380.93,693.32 381.11,693.28 381.29,693.25 381.47,693.25 381.66,693.26 381.84,693.28 382.02,693.32 382.21,693.37 382.39,693.43 382.57,693.50 382.76,693.57 382.94,693.64 383.12,693.70 383.31,693.76 383.49,693.81 383.67,693.85 383.86,693.89 384.04,693.92 384.22,693.94 384.41,693.96 384.59,693.97 384.77,693.98 384.95,693.99 385.14,693.99 385.32,693.99 385.50,694.00 385.69,694.00 385.87,694.00 386.05,694.00 386.24,694.00 386.42,694.00 386.60,694.00 386.79,694.00 386.97,694.00 387.15,694.00 387.34,694.00 387.52,694.00 387.70,694.00 387.88,694.00 388.07,694.00 388.25,694.00 388.43,694.00 388.62,694.00 388.80,694.00 388.98,694.00 389.17,694.00 389.35,694.00 389.53,694.00 389.72,694.00 389.90,694.00 390.08,694.00 390.27,694.00 390.45,694.00 390.63,694.00 390.82,694.00 391.00,694.00 391.18,694.00 391.36,694.00 391.55,694.00 391.73,694.00 391.91,694.00 392.10,694.00 392.28,694.00 392.46,694.00 392.65,694.00 392.83,694.00 393.01,694.00 393.20,694.00 393.38,694.00 393.56,694.00 393.75,694.00 393.93,694.00 394.11,694.00 394.30,694.00 394.48,694.00 394.66,694.00 394.84,693.99 395.03,693.99 395.21,693.99 395.39,693.98 395.58,693.97 395.76,693.96 395.94,693.94 396.13,693.92 396.31,693.89 396.49,693.86 396.68,693.82 396.86,693.78 397.04,693.73 397.23,693.67 397.41,693.62 397.59,693.56 397.78,693.51 397.96,693.46 398.14,693.42 398.32,693.39 398.51,693.38 398.69,693.37 398.87,693.38 399.06,693.41 399.24,693.45 399.42,693.49 399.61,693.54 399.79,693.60 399.97,693.66 400.16,693.71 400.34,693.76 400.52,693.81 400.71,693.85 400.89,693.89 401.07,693.91 401.25,693.94 401.44,693.95 401.62,693.97 401.80,693.98 401.99,693.99 402.17,693.99 402.35,693.99 402.54,694.00 402.72,694.00 402.90,694.00 403.09,694.00 403.27,694.00 403.45,694.00 403.64,694.00 403.82,694.00 404.00,694.00 404.19,694.00 404.37,694.00 404.55,694.00 404.73,694.00 404.92,694.00 405.10,694.00 405.28,694.00 405.47,694.00 405.65,694.00 405.83,694.00 406.02,694.00 406.20,694.00" fill="none" stroke="#5ba85b" stroke-width="1.0" stroke-linejoin="round"/>
<text x="12.55" y="515.30" font-size="13.6" textLength="21.14" lengthAdjust="spacingAndGlyphs" fill="#111"> 50</text>
<path d="M515,0 L515,1237 L197,1010 L197,1180 L530,1409 L696,1409 L696,0 Z" transform="translate(12.550,515.300) scale(0.00619,-0.00664)" fill="#111" stroke="#111" stroke-width="33.13"/>
<text x="14.07" y="546.60" font-size="13.6" textLength="20.67" lengthAdjust="spacingAndGlyphs" fill="#111"> 25</text>
<path d="M515,0 L515,1237 L197,1010 L197,1180 L530,1409 L696,1409 L696,0 Z" transform="translate(14.071,546.600) scale(0.00605,-0.00664)" fill="#111" stroke="#111" stroke-width="33.13"/>
<text x="14.50" y="578.00" font-size="13.6" textLength="19.96" lengthAdjust="spacingAndGlyphs" fill="#111"> 00</text>
<path d="M515,0 L515,1237 L197,1010 L197,1180 L530,1409 L696,1409 L696,0 Z" transform="translate(14.503,578.000) scale(0.00584,-0.00664)" fill="#111" stroke="#111" stroke-width="33.13"/>
<text x="19.55" y="609.40" font-size="13.6" textLength="14.39" lengthAdjust="spacingAndGlyphs" fill="#111">75</text>
<text x="21.69" y="640.90" font-size="13.6" textLength="14.08" lengthAdjust="spacingAndGlyphs" fill="#111">50</text>
<text x="21.54" y="672.30" font-size="13.6" textLength="14.72" lengthAdjust="spacingAndGlyphs" fill="#111">25</text>
<text x="27.09" y="696.50" font-size="13.6" textLength="7.07" lengthAdjust="spacingAndGlyphs" fill="#111">0</text>
<text x="33.67" y="717.40" font-size="13.6" textLength="18.50" lengthAdjust="spacingAndGlyphs" fill="#111">0.0</text>
<text x="95.64" y="717.40" font-size="13.6" textLength="19.45" lengthAdjust="spacingAndGlyphs" fill="#111">5.0</text>
<text x="156.02" y="717.40" font-size="13.6" textLength="25.46" lengthAdjust="spacingAndGlyphs" fill="#111"> 0.0</text>
<path d="M515,0 L515,1237 L197,1010 L197,1180 L530,1409 L696,1409 L696,0 Z" transform="translate(156.019,717.400) scale(0.00639,-0.00664)" fill="#111" stroke="#111" stroke-width="33.13"/>
<text x="217.42" y="717.40" font-size="13.6" textLength="25.46" lengthAdjust="spacingAndGlyphs" fill="#111"> 5.0</text>
<path d="M515,0 L515,1237 L197,1010 L197,1180 L530,1409 L696,1409 L696,0 Z" transform="translate(217.419,717.400) scale(0.00639,-0.00664)" fill="#111" stroke="#111" stroke-width="33.13"/>
<text x="277.95" y="717.40" font-size="13.6" textLength="25.32" lengthAdjust="spacingAndGlyphs" fill="#111">20.0</text>
<text x="339.15" y="717.40" font-size="13.6" textLength="25.32" lengthAdjust="spacingAndGlyphs" fill="#111">25.0</text>
<text x="395.42" y="717.40" font-size="13.6" textLength="21.88" lengthAdjust="spacingAndGlyphs" fill="#111">min</text>
<text x="41.76" y="507.00" font-size="14.0" textLength="10.69" lengthAdjust="spacingAndGlyphs" fill="#111">C</text>
<text x="92.20" y="484.20" font-size="13.6" textLength="41.65" lengthAdjust="spacingAndGlyphs" fill="#111">Adding</text>
<text x="137.21" y="484.60" font-size="13.6" textLength="9.80" lengthAdjust="spacingAndGlyphs" fill="#111">H</text>
<text x="146.46" y="485.50" font-size="7.0" textLength="4.89" lengthAdjust="spacingAndGlyphs" fill="#111">2</text>
<text x="151.43" y="484.80" font-size="13.6" textLength="9.88" lengthAdjust="spacingAndGlyphs" fill="#111">O</text>
<text x="161.55" y="485.50" font-size="7.0" textLength="5.01" lengthAdjust="spacingAndGlyphs" fill="#111">2</text>
<text x="171.59" y="484.40" font-size="13.6" textLength="59.42" lengthAdjust="spacingAndGlyphs" fill="#111">+ Prx at 20</text>
<text x="231.34" y="480.00" font-size="7.8" textLength="6.44" lengthAdjust="spacingAndGlyphs" fill="#111">o</text>
<text x="238.20" y="484.40" font-size="13.6" textLength="68.62" lengthAdjust="spacingAndGlyphs" fill="#111">C for 2 min</text>
<line x1="69.20" y1="674.30" x2="281.80" y2="674.30" stroke="#585858" stroke-width="1.25" stroke-dasharray="7 3.35" stroke-dashoffset="4.75"/>
<line x1="69.20" y1="697.70" x2="281.80" y2="697.70" stroke="#585858" stroke-width="1.25" stroke-dasharray="7 3.35" stroke-dashoffset="4.0"/>
<line x1="69.90" y1="673.60" x2="69.90" y2="698.40" stroke="#585858" stroke-width="1.25" stroke-dasharray="4.6 2.2"/>
<line x1="281.80" y1="673.60" x2="281.80" y2="698.40" stroke="#585858" stroke-width="1.25" stroke-dasharray="4.2 2.0"/>
<line x1="69.90" y1="674.30" x2="182.30" y2="636.60" stroke="#555" stroke-width="1.0"/>
<line x1="282.00" y1="674.30" x2="418.00" y2="636.60" stroke="#555" stroke-width="1.0"/>
<rect x="182.30" y="520.30" width="235.70" height="116.30" stroke="#666" stroke-width="1.1" fill="#fff"/>
<polyline points="182.30,611.90 200.50,612.00 204.90,613.60 206.80,611.50 208.10,607.40 209.00,560.00 209.50,520.60 209.90,560.00 210.20,597.10 211.00,593.00 211.60,588.20 212.20,610.00 212.90,636.00 213.40,620.00 213.80,606.90 215.60,608.10 218.20,606.90 220.30,607.40 221.80,608.70 223.00,606.50 225.00,597.10 226.20,607.40 228.00,606.80 229.80,606.00 231.00,595.00 232.60,582.00 234.20,596.00 236.00,606.00 237.80,604.20 240.40,607.80 243.50,607.50 245.80,606.00 248.50,607.80 252.00,608.70 256.40,608.70 257.60,600.00 258.60,587.30 259.60,600.00 260.40,608.70 262.70,606.00 265.30,607.40 268.90,606.90 271.60,608.20 275.10,605.10 278.70,608.70 283.10,606.50 287.60,608.70 292.00,607.80 300.00,609.00 308.50,609.20 311.30,606.70 315.40,610.00 330.00,609.80 341.30,609.60 344.60,606.70 348.70,609.40 354.50,608.50 357.00,605.90 360.70,609.00 362.80,605.00 364.40,602.00 366.00,605.00 367.60,609.00 385.00,609.20 391.30,609.00 392.80,590.00 394.00,550.00 394.60,543.30 395.40,555.00 396.30,590.00 397.20,605.40 399.00,604.20 400.90,603.50 403.00,605.50 406.10,609.00 412.00,609.00 418.00,608.50" fill="none" stroke="#5ba85b" stroke-width="1.0" stroke-linejoin="round"/>
<text x="271.27" y="533.20" font-size="12.6" textLength="118.59" lengthAdjust="spacingAndGlyphs" fill="#111">Cyanidin-3-glucoside</text>
<text x="258.08" y="571.80" font-size="12.6" textLength="110.87" lengthAdjust="spacingAndGlyphs" fill="#111">Protocatechuic acid</text>
<line x1="361.30" y1="536.30" x2="386.45" y2="540.68" stroke="#1a1a1a" stroke-width="1.1"/>
<polygon points="385.09,542.68 390.00,541.30 385.85,538.34 386.65,540.72" fill="#1a1a1a" stroke="#1a1a1a" stroke-width="0.4" stroke-linejoin="miter"/>
<line x1="293.80" y1="575.40" x2="264.07" y2="583.73" stroke="#1a1a1a" stroke-width="1.1"/>
<polygon points="264.44,581.34 260.60,584.70 265.62,585.58 263.87,583.78" fill="#1a1a1a" stroke="#1a1a1a" stroke-width="0.4" stroke-linejoin="miter"/>
<text x="137.87" y="668.90" font-size="12.8" textLength="111.89" lengthAdjust="spacingAndGlyphs" fill="#111">Protocatechuic acid</text>
<line x1="157.30" y1="673.30" x2="132.08" y2="686.71" stroke="#1a1a1a" stroke-width="1.1"/>
<polygon points="131.93,684.30 128.90,688.40 133.99,688.18 131.90,686.80" fill="#1a1a1a" stroke="#1a1a1a" stroke-width="0.4" stroke-linejoin="miter"/>
<text x="285.36" y="685.00" font-size="12.4" textLength="119.29" lengthAdjust="spacingAndGlyphs" fill="#111">Cyanidin-3-glucoside</text>
<line x1="285.30" y1="680.40" x2="273.39" y2="681.32" stroke="#1a1a1a" stroke-width="1.1"/>
<polygon points="274.22,679.05 269.80,681.60 274.56,683.44 273.19,681.34" fill="#1a1a1a" stroke="#1a1a1a" stroke-width="0.4" stroke-linejoin="miter"/>
</g>
<rect x="508.80" y="19.60" width="154.20" height="265.00" stroke="#2a2a2a" stroke-width="1.1" fill="none"/>
<line x1="508.80" y1="152.30" x2="663.00" y2="152.30" stroke="#2a2a2a" stroke-width="1.1"/>
<line x1="508.80" y1="131.76" x2="515.30" y2="131.76" stroke="#2a2a2a" stroke-width="1.0"/>
<line x1="508.80" y1="111.42" x2="515.30" y2="111.42" stroke="#2a2a2a" stroke-width="1.0"/>
<line x1="508.80" y1="91.08" x2="515.30" y2="91.08" stroke="#2a2a2a" stroke-width="1.0"/>
<line x1="508.80" y1="70.74" x2="515.30" y2="70.74" stroke="#2a2a2a" stroke-width="1.0"/>
<line x1="508.80" y1="50.40" x2="515.30" y2="50.40" stroke="#2a2a2a" stroke-width="1.0"/>
<line x1="508.80" y1="30.06" x2="515.30" y2="30.06" stroke="#2a2a2a" stroke-width="1.0"/>
<line x1="508.80" y1="260.36" x2="515.30" y2="260.36" stroke="#2a2a2a" stroke-width="1.0"/>
<line x1="508.80" y1="236.32" x2="515.30" y2="236.32" stroke="#2a2a2a" stroke-width="1.0"/>
<line x1="508.80" y1="212.28" x2="515.30" y2="212.28" stroke="#2a2a2a" stroke-width="1.0"/>
<line x1="508.80" y1="188.24" x2="515.30" y2="188.24" stroke="#2a2a2a" stroke-width="1.0"/>
<line x1="508.80" y1="164.20" x2="515.30" y2="164.20" stroke="#2a2a2a" stroke-width="1.0"/>
<line x1="547.76" y1="152.30" x2="547.76" y2="146.30" stroke="#2a2a2a" stroke-width="1.0"/>
<line x1="547.76" y1="284.60" x2="547.76" y2="278.60" stroke="#2a2a2a" stroke-width="1.0"/>
<line x1="573.42" y1="152.30" x2="573.42" y2="146.30" stroke="#2a2a2a" stroke-width="1.0"/>
<line x1="573.42" y1="284.60" x2="573.42" y2="278.60" stroke="#2a2a2a" stroke-width="1.0"/>
<line x1="599.08" y1="152.30" x2="599.08" y2="146.30" stroke="#2a2a2a" stroke-width="1.0"/>
<line x1="599.08" y1="284.60" x2="599.08" y2="278.60" stroke="#2a2a2a" stroke-width="1.0"/>
<line x1="624.74" y1="152.30" x2="624.74" y2="146.30" stroke="#2a2a2a" stroke-width="1.0"/>
<line x1="624.74" y1="284.60" x2="624.74" y2="278.60" stroke="#2a2a2a" stroke-width="1.0"/>
<line x1="650.40" y1="152.30" x2="650.40" y2="146.30" stroke="#2a2a2a" stroke-width="1.0"/>
<line x1="650.40" y1="284.60" x2="650.40" y2="278.60" stroke="#2a2a2a" stroke-width="1.0"/>
<text x="475.20" y="34.86" font-size="15.4" textLength="25.69" lengthAdjust="spacingAndGlyphs" fill="#111"> 20</text>
<path d="M515,0 L515,1237 L197,1010 L197,1180 L530,1409 L696,1409 L696,0 Z" transform="translate(475.198,34.860) scale(0.00752,-0.00752)" fill="#111" stroke="#111" stroke-width="47.88"/>
<text x="475.20" y="55.20" font-size="15.4" textLength="25.69" lengthAdjust="spacingAndGlyphs" fill="#111"> 00</text>
<path d="M515,0 L515,1237 L197,1010 L197,1180 L530,1409 L696,1409 L696,0 Z" transform="translate(475.198,55.200) scale(0.00752,-0.00752)" fill="#111" stroke="#111" stroke-width="47.88"/>
<text x="483.75" y="75.54" font-size="15.4" textLength="17.13" lengthAdjust="spacingAndGlyphs" fill="#111">80</text>
<text x="483.75" y="95.88" font-size="15.4" textLength="17.13" lengthAdjust="spacingAndGlyphs" fill="#111">60</text>
<text x="483.75" y="116.22" font-size="15.4" textLength="17.13" lengthAdjust="spacingAndGlyphs" fill="#111">40</text>
<text x="483.75" y="136.56" font-size="15.4" textLength="17.13" lengthAdjust="spacingAndGlyphs" fill="#111">20</text>
<text x="492.29" y="156.90" font-size="15.4" textLength="8.56" lengthAdjust="spacingAndGlyphs" fill="#111">0</text>
<text x="483.82" y="169.00" font-size="15.4" textLength="17.13" lengthAdjust="spacingAndGlyphs" fill="#111">25</text>
<text x="483.75" y="193.04" font-size="15.4" textLength="17.13" lengthAdjust="spacingAndGlyphs" fill="#111">20</text>
<text x="483.82" y="217.08" font-size="15.4" textLength="17.13" lengthAdjust="spacingAndGlyphs" fill="#111"> 5</text>
<path d="M515,0 L515,1237 L197,1010 L197,1180 L530,1409 L696,1409 L696,0 Z" transform="translate(483.822,217.080) scale(0.00752,-0.00752)" fill="#111" stroke="#111" stroke-width="47.88"/>
<text x="483.75" y="241.12" font-size="15.4" textLength="17.13" lengthAdjust="spacingAndGlyphs" fill="#111"> 0</text>
<path d="M515,0 L515,1237 L197,1010 L197,1180 L530,1409 L696,1409 L696,0 Z" transform="translate(483.745,241.120) scale(0.00752,-0.00752)" fill="#111" stroke="#111" stroke-width="47.88"/>
<text x="492.37" y="265.16" font-size="15.4" textLength="8.56" lengthAdjust="spacingAndGlyphs" fill="#111">5</text>
<text x="492.29" y="289.20" font-size="15.4" textLength="8.56" lengthAdjust="spacingAndGlyphs" fill="#111">0</text>
<text x="514.92" y="35.30" font-size="15.4" textLength="9.71" lengthAdjust="spacingAndGlyphs" fill="#111">D</text>
<text x="514.21" y="169.40" font-size="15.4" textLength="9.06" lengthAdjust="spacingAndGlyphs" fill="#111">E</text>
<text x="517.09" y="306.00" font-size="15.4" textLength="8.56" lengthAdjust="spacingAndGlyphs" fill="#111">0</text>
<text x="543.03" y="306.00" font-size="15.4" textLength="8.56" lengthAdjust="spacingAndGlyphs" fill="#111">2</text>
<text x="569.20" y="306.00" font-size="15.4" textLength="8.56" lengthAdjust="spacingAndGlyphs" fill="#111">4</text>
<text x="594.75" y="306.00" font-size="15.4" textLength="8.56" lengthAdjust="spacingAndGlyphs" fill="#111">6</text>
<text x="620.49" y="306.00" font-size="15.4" textLength="8.56" lengthAdjust="spacingAndGlyphs" fill="#111">8</text>
<text x="642.35" y="306.00" font-size="15.4" textLength="17.13" lengthAdjust="spacingAndGlyphs" fill="#111"> 0</text>
<path d="M515,0 L515,1237 L197,1010 L197,1180 L530,1409 L696,1409 L696,0 Z" transform="translate(642.345,306.000) scale(0.00752,-0.00752)" fill="#111" stroke="#111" stroke-width="47.88"/>
<text x="518.29" y="329.80" font-size="15.4" textLength="143.90" lengthAdjust="spacingAndGlyphs" fill="#111">Time of treatment (h)</text>
<text transform="rotate(-90)" x="-133.88" y="451.70" font-size="15.4" textLength="96.07" lengthAdjust="spacingAndGlyphs" fill="#111">C-3-glucoside</text>
<text transform="rotate(-90)" x="-101.71" y="470.00" font-size="15.4" textLength="31.50" lengthAdjust="spacingAndGlyphs" fill="#111">(µM)</text>
<text transform="rotate(-90)" x="-286.14" y="451.40" font-size="15.4" textLength="135.28" lengthAdjust="spacingAndGlyphs" fill="#111">Protocatechuic acid</text>
<text transform="rotate(-90)" x="-234.51" y="470.00" font-size="15.4" textLength="31.50" lengthAdjust="spacingAndGlyphs" fill="#111">(µM)</text>
<polyline points="521.70,50.40 522.70,52.30 523.69,54.16 524.69,55.99 525.68,57.78 526.68,59.55 527.68,61.27 528.67,62.97 529.67,64.63 530.67,66.27 531.66,67.87 532.66,69.44 533.65,70.98 534.65,72.50 535.65,73.99 536.64,75.44 537.64,76.87 538.63,78.28 539.63,79.66 540.63,81.01 541.62,82.34 542.62,83.64 543.62,84.92 544.61,86.17 545.61,87.40 546.60,88.61 547.60,89.80 548.60,90.96 549.59,92.10 550.59,93.22 551.58,94.32 552.58,95.40 553.58,96.46 554.57,97.50 555.57,98.52 556.57,99.52 557.56,100.50 558.56,101.46 559.55,102.41 560.55,103.33 561.55,104.24 562.54,105.14 563.54,106.01 564.53,106.88 565.53,107.72 566.53,108.55 567.52,109.36 568.52,110.16 569.52,110.94 570.51,111.71 571.51,112.46 572.50,113.20 573.50,113.93 574.50,114.64 575.49,115.34 576.49,116.03 577.48,116.70 578.48,117.36 579.48,118.01 580.47,118.65 581.47,119.27 582.47,119.89 583.46,120.49 584.46,121.08 585.45,121.66 586.45,122.22 587.45,122.78 588.44,123.33 589.44,123.87 590.43,124.39 591.43,124.91 592.43,125.42 593.42,125.92 594.42,126.41 595.42,126.89 596.41,127.36 597.41,127.82 598.40,128.27 599.40,128.72 600.40,129.15 601.39,129.58 602.39,130.00 603.38,130.41 604.38,130.82 605.38,131.22 606.37,131.61 607.37,131.99 608.37,132.36 609.36,132.73 610.36,133.09 611.35,133.45 612.35,133.80 613.35,134.14 614.34,134.47 615.34,134.80 616.33,135.13 617.33,135.44 618.33,135.75 619.32,136.06 620.32,136.36 621.32,136.65 622.31,136.94 623.31,137.22 624.30,137.50 625.30,137.77 626.30,138.04 627.29,138.30 628.29,138.56 629.28,138.81 630.28,139.06 631.28,139.31 632.27,139.55 633.27,139.78 634.27,140.01 635.26,140.24 636.26,140.46 637.25,140.67 638.25,140.89 639.25,141.10 640.24,141.30 641.24,141.50 642.23,141.70 643.23,141.90 644.23,142.09 645.22,142.27 646.22,142.46 647.22,142.64 648.21,142.81 649.21,142.99 650.20,143.16 651.20,143.32" fill="none" stroke="#151515" stroke-width="1.1" stroke-linejoin="round"/>
<line x1="521.60" y1="50.40" x2="521.60" y2="140.00" stroke="#151515" stroke-width="1.1"/>
<circle cx="532.40" cy="50.60" r="4.2" fill="#fff" stroke="#1a1a1a" stroke-width="1.2"/>
<circle cx="541.00" cy="51.60" r="4.2" fill="#fff" stroke="#1a1a1a" stroke-width="1.2"/>
<circle cx="549.60" cy="52.80" r="4.2" fill="#fff" stroke="#1a1a1a" stroke-width="1.2"/>
<circle cx="558.20" cy="53.40" r="4.2" fill="#fff" stroke="#1a1a1a" stroke-width="1.2"/>
<circle cx="566.80" cy="53.60" r="4.2" fill="#fff" stroke="#1a1a1a" stroke-width="1.2"/>
<circle cx="575.40" cy="53.80" r="4.2" fill="#fff" stroke="#1a1a1a" stroke-width="1.2"/>
<circle cx="584.00" cy="54.40" r="4.2" fill="#fff" stroke="#1a1a1a" stroke-width="1.2"/>
<circle cx="592.60" cy="54.80" r="4.2" fill="#fff" stroke="#1a1a1a" stroke-width="1.2"/>
<circle cx="601.20" cy="55.00" r="4.2" fill="#fff" stroke="#1a1a1a" stroke-width="1.2"/>
<circle cx="609.80" cy="55.20" r="4.2" fill="#fff" stroke="#1a1a1a" stroke-width="1.2"/>
<circle cx="618.40" cy="55.30" r="4.2" fill="#fff" stroke="#1a1a1a" stroke-width="1.2"/>
<circle cx="627.00" cy="55.30" r="4.2" fill="#fff" stroke="#1a1a1a" stroke-width="1.2"/>
<circle cx="635.60" cy="55.40" r="4.2" fill="#fff" stroke="#1a1a1a" stroke-width="1.2"/>
<circle cx="644.20" cy="55.40" r="4.2" fill="#fff" stroke="#1a1a1a" stroke-width="1.2"/>
<circle cx="652.80" cy="55.40" r="4.2" fill="#fff" stroke="#1a1a1a" stroke-width="1.2"/>
<circle cx="532.40" cy="64.00" r="4.75" fill="#1a1212" stroke="#1a1212" stroke-width="0.6"/>
<circle cx="541.10" cy="80.00" r="4.75" fill="#1a1212" stroke="#1a1212" stroke-width="0.6"/>
<circle cx="549.50" cy="93.00" r="4.75" fill="#1a1212" stroke="#1a1212" stroke-width="0.6"/>
<circle cx="558.20" cy="100.80" r="4.75" fill="#1a1212" stroke="#1a1212" stroke-width="0.6"/>
<circle cx="566.70" cy="107.30" r="4.75" fill="#1a1212" stroke="#1a1212" stroke-width="0.6"/>
<circle cx="575.20" cy="113.40" r="4.75" fill="#1a1212" stroke="#1a1212" stroke-width="0.6"/>
<circle cx="584.00" cy="120.90" r="4.75" fill="#1a1212" stroke="#1a1212" stroke-width="0.6"/>
<circle cx="592.50" cy="126.60" r="4.75" fill="#1a1212" stroke="#1a1212" stroke-width="0.6"/>
<circle cx="601.00" cy="130.60" r="4.75" fill="#1a1212" stroke="#1a1212" stroke-width="0.6"/>
<circle cx="609.80" cy="133.70" r="4.75" fill="#1a1212" stroke="#1a1212" stroke-width="0.6"/>
<circle cx="618.40" cy="136.20" r="4.75" fill="#1a1212" stroke="#1a1212" stroke-width="0.6"/>
<circle cx="626.90" cy="138.10" r="4.75" fill="#1a1212" stroke="#1a1212" stroke-width="0.6"/>
<circle cx="635.40" cy="140.00" r="4.75" fill="#1a1212" stroke="#1a1212" stroke-width="0.6"/>
<circle cx="643.90" cy="141.70" r="4.75" fill="#1a1212" stroke="#1a1212" stroke-width="0.6"/>
<circle cx="652.70" cy="143.40" r="4.75" fill="#1a1212" stroke="#1a1212" stroke-width="0.6"/>
<rect x="517.70" y="136.40" width="8.20" height="8.20" stroke="#1a1a1a" stroke-width="1.1" fill="#fff"/>
<rect x="517.70" y="144.40" width="8.20" height="8.20" stroke="#1a1a1a" stroke-width="1.1" fill="#fff"/>
<rect x="517.70" y="148.40" width="8.20" height="8.20" stroke="#1a1a1a" stroke-width="1.1" fill="#fff"/>
<rect x="517.50" y="46.00" width="8.20" height="8.20" stroke="#1a1a1a" stroke-width="1.1" fill="#fff"/>
<rect x="556.10" y="71.30" width="8.40" height="8.40" stroke="#1a1a1a" stroke-width="1.1" fill="#fff"/>
<text x="586.61" y="78.00" font-size="15.4" textLength="10.70" lengthAdjust="spacingAndGlyphs" fill="#111">H</text>
<text x="596.97" y="82.60" font-size="10.0" textLength="6.97" lengthAdjust="spacingAndGlyphs" fill="#111">2</text>
<text x="603.57" y="78.30" font-size="15.4" textLength="10.90" lengthAdjust="spacingAndGlyphs" fill="#111">O</text>
<text x="614.68" y="82.60" font-size="10.0" textLength="6.84" lengthAdjust="spacingAndGlyphs" fill="#111">2</text>
<text x="625.23" y="76.60" font-size="15.4" textLength="9.03" lengthAdjust="spacingAndGlyphs" fill="#111">+</text>
<text x="637.95" y="78.00" font-size="15.4" textLength="23.40" lengthAdjust="spacingAndGlyphs" fill="#111">Prx</text>
<circle cx="587.80" cy="96.30" r="4.7" fill="#1a1212" stroke="#1a1212" stroke-width="0.6"/>
<text x="614.13" y="99.00" font-size="15.4" textLength="10.57" lengthAdjust="spacingAndGlyphs" fill="#111">H</text>
<text x="624.41" y="103.40" font-size="10.0" textLength="6.60" lengthAdjust="spacingAndGlyphs" fill="#111">2</text>
<text x="630.94" y="99.30" font-size="15.4" textLength="11.47" lengthAdjust="spacingAndGlyphs" fill="#111">O</text>
<text x="642.38" y="103.40" font-size="10.0" textLength="6.84" lengthAdjust="spacingAndGlyphs" fill="#111">2</text>
<circle cx="607.20" cy="116.30" r="4.5" fill="#fff" stroke="#1a1a1a" stroke-width="1.2"/>
<text x="633.17" y="121.10" font-size="15.4" textLength="28.85" lengthAdjust="spacingAndGlyphs" fill="#111">35C</text>
<line x1="521.60" y1="190.00" x2="521.60" y2="284.00" stroke="#151515" stroke-width="1.1"/>
<polyline points="521.60,284.40 532.20,281.00 541.00,276.10 549.60,268.00 558.10,261.70 566.60,255.10 575.30,249.00 583.90,239.60 592.30,233.80 600.80,226.30 609.40,218.40 617.90,214.00 626.50,205.50 635.00,199.40 643.60,196.00 652.60,186.20" fill="none" stroke="#151515" stroke-width="1.0" stroke-linejoin="round"/>
<circle cx="532.20" cy="281.00" r="4.75" fill="#1a1212" stroke="#1a1212" stroke-width="0.6"/>
<circle cx="541.00" cy="276.10" r="4.75" fill="#1a1212" stroke="#1a1212" stroke-width="0.6"/>
<circle cx="549.60" cy="268.00" r="4.75" fill="#1a1212" stroke="#1a1212" stroke-width="0.6"/>
<circle cx="558.10" cy="261.70" r="4.75" fill="#1a1212" stroke="#1a1212" stroke-width="0.6"/>
<circle cx="566.60" cy="255.10" r="4.75" fill="#1a1212" stroke="#1a1212" stroke-width="0.6"/>
<circle cx="575.30" cy="249.00" r="4.75" fill="#1a1212" stroke="#1a1212" stroke-width="0.6"/>
<circle cx="583.90" cy="239.60" r="4.75" fill="#1a1212" stroke="#1a1212" stroke-width="0.6"/>
<circle cx="592.30" cy="233.80" r="4.75" fill="#1a1212" stroke="#1a1212" stroke-width="0.6"/>
<circle cx="600.80" cy="226.30" r="4.75" fill="#1a1212" stroke="#1a1212" stroke-width="0.6"/>
<circle cx="609.40" cy="218.40" r="4.75" fill="#1a1212" stroke="#1a1212" stroke-width="0.6"/>
<circle cx="617.90" cy="214.00" r="4.75" fill="#1a1212" stroke="#1a1212" stroke-width="0.6"/>
<circle cx="626.50" cy="205.50" r="4.75" fill="#1a1212" stroke="#1a1212" stroke-width="0.6"/>
<circle cx="635.00" cy="199.40" r="4.75" fill="#1a1212" stroke="#1a1212" stroke-width="0.6"/>
<circle cx="643.60" cy="196.00" r="4.75" fill="#1a1212" stroke="#1a1212" stroke-width="0.6"/>
<circle cx="652.60" cy="186.20" r="4.75" fill="#1a1212" stroke="#1a1212" stroke-width="0.6"/>
<circle cx="532.20" cy="284.40" r="4.2" fill="#fff" stroke="#1a1a1a" stroke-width="1.2"/>
<circle cx="540.90" cy="282.60" r="4.2" fill="#fff" stroke="#1a1a1a" stroke-width="1.2"/>
<circle cx="549.60" cy="280.00" r="4.2" fill="#fff" stroke="#1a1a1a" stroke-width="1.2"/>
<circle cx="558.10" cy="278.80" r="4.2" fill="#fff" stroke="#1a1a1a" stroke-width="1.2"/>
<circle cx="566.60" cy="278.80" r="4.2" fill="#fff" stroke="#1a1a1a" stroke-width="1.2"/>
<circle cx="575.20" cy="278.80" r="4.2" fill="#fff" stroke="#1a1a1a" stroke-width="1.2"/>
<circle cx="583.80" cy="278.80" r="4.2" fill="#fff" stroke="#1a1a1a" stroke-width="1.2"/>
<circle cx="592.40" cy="278.80" r="4.2" fill="#fff" stroke="#1a1a1a" stroke-width="1.2"/>
<circle cx="601.00" cy="278.80" r="4.2" fill="#fff" stroke="#1a1a1a" stroke-width="1.2"/>
<circle cx="609.60" cy="278.80" r="4.2" fill="#fff" stroke="#1a1a1a" stroke-width="1.2"/>
<circle cx="618.20" cy="278.80" r="4.2" fill="#fff" stroke="#1a1a1a" stroke-width="1.2"/>
<circle cx="626.80" cy="278.80" r="4.2" fill="#fff" stroke="#1a1a1a" stroke-width="1.2"/>
<circle cx="635.40" cy="278.80" r="4.2" fill="#fff" stroke="#1a1a1a" stroke-width="1.2"/>
<circle cx="644.00" cy="278.80" r="4.2" fill="#fff" stroke="#1a1a1a" stroke-width="1.2"/>
<circle cx="652.60" cy="278.80" r="4.2" fill="#fff" stroke="#1a1a1a" stroke-width="1.2"/>
<rect x="517.70" y="185.10" width="8.20" height="8.20" stroke="#1a1a1a" stroke-width="1.1" fill="#fff"/>
<rect x="517.70" y="182.40" width="8.20" height="8.20" stroke="#1a1a1a" stroke-width="1.1" fill="#fff"/>
<rect x="517.70" y="176.70" width="8.20" height="8.20" stroke="#1a1a1a" stroke-width="1.1" fill="#fff"/>
<rect x="517.50" y="280.30" width="8.20" height="8.20" stroke="#1a1a1a" stroke-width="1.1" fill="#fff"/>
<rect x="509.00" y="356.70" width="155.60" height="133.30" stroke="#2a2a2a" stroke-width="1.1" fill="none"/>
<line x1="509.00" y1="469.38" x2="515.50" y2="469.38" stroke="#2a2a2a" stroke-width="1.0"/>
<line x1="509.00" y1="448.76" x2="515.50" y2="448.76" stroke="#2a2a2a" stroke-width="1.0"/>
<line x1="509.00" y1="428.14" x2="515.50" y2="428.14" stroke="#2a2a2a" stroke-width="1.0"/>
<line x1="509.00" y1="407.52" x2="515.50" y2="407.52" stroke="#2a2a2a" stroke-width="1.0"/>
<line x1="509.00" y1="386.90" x2="515.50" y2="386.90" stroke="#2a2a2a" stroke-width="1.0"/>
<line x1="509.00" y1="366.28" x2="515.50" y2="366.28" stroke="#2a2a2a" stroke-width="1.0"/>
<line x1="522.60" y1="490.00" x2="522.60" y2="484.00" stroke="#2a2a2a" stroke-width="1.0"/>
<line x1="551.00" y1="490.00" x2="551.00" y2="484.00" stroke="#2a2a2a" stroke-width="1.0"/>
<line x1="579.40" y1="490.00" x2="579.40" y2="484.00" stroke="#2a2a2a" stroke-width="1.0"/>
<line x1="607.80" y1="490.00" x2="607.80" y2="484.00" stroke="#2a2a2a" stroke-width="1.0"/>
<line x1="636.20" y1="490.00" x2="636.20" y2="484.00" stroke="#2a2a2a" stroke-width="1.0"/>
<text x="475.20" y="371.08" font-size="15.4" textLength="25.69" lengthAdjust="spacingAndGlyphs" fill="#111"> 20</text>
<path d="M515,0 L515,1237 L197,1010 L197,1180 L530,1409 L696,1409 L696,0 Z" transform="translate(475.198,371.080) scale(0.00752,-0.00752)" fill="#111" stroke="#111" stroke-width="47.88"/>
<text x="475.20" y="391.70" font-size="15.4" textLength="25.69" lengthAdjust="spacingAndGlyphs" fill="#111"> 00</text>
<path d="M515,0 L515,1237 L197,1010 L197,1180 L530,1409 L696,1409 L696,0 Z" transform="translate(475.198,391.700) scale(0.00752,-0.00752)" fill="#111" stroke="#111" stroke-width="47.88"/>
<text x="483.75" y="412.32" font-size="15.4" textLength="17.13" lengthAdjust="spacingAndGlyphs" fill="#111">80</text>
<text x="483.75" y="432.94" font-size="15.4" textLength="17.13" lengthAdjust="spacingAndGlyphs" fill="#111">60</text>
<text x="483.75" y="453.56" font-size="15.4" textLength="17.13" lengthAdjust="spacingAndGlyphs" fill="#111">40</text>
<text x="483.75" y="474.18" font-size="15.4" textLength="17.13" lengthAdjust="spacingAndGlyphs" fill="#111">20</text>
<text x="492.29" y="494.80" font-size="15.4" textLength="8.56" lengthAdjust="spacingAndGlyphs" fill="#111">0</text>
<text x="517.79" y="511.40" font-size="15.4" textLength="8.56" lengthAdjust="spacingAndGlyphs" fill="#111">0</text>
<text x="546.03" y="511.40" font-size="15.4" textLength="8.56" lengthAdjust="spacingAndGlyphs" fill="#111">2</text>
<text x="574.60" y="511.40" font-size="15.4" textLength="8.56" lengthAdjust="spacingAndGlyphs" fill="#111">4</text>
<text x="602.65" y="511.40" font-size="15.4" textLength="8.56" lengthAdjust="spacingAndGlyphs" fill="#111">6</text>
<text x="631.69" y="511.40" font-size="15.4" textLength="8.56" lengthAdjust="spacingAndGlyphs" fill="#111">8</text>
<text x="655.35" y="511.40" font-size="15.4" textLength="17.13" lengthAdjust="spacingAndGlyphs" fill="#111"> 0</text>
<path d="M515,0 L515,1237 L197,1010 L197,1180 L530,1409 L696,1409 L696,0 Z" transform="translate(655.345,511.400) scale(0.00752,-0.00752)" fill="#111" stroke="#111" stroke-width="47.88"/>
<text x="515.04" y="372.60" font-size="15.4" textLength="8.85" lengthAdjust="spacingAndGlyphs" fill="#111">F</text>
<text x="552.19" y="531.50" font-size="15.4" textLength="74.27" lengthAdjust="spacingAndGlyphs" fill="#111">Time (day)</text>
<text transform="rotate(-90)" x="-518.75" y="447.00" font-size="15.4" textLength="191.05" lengthAdjust="spacingAndGlyphs" fill="#111">Non-enzymatic degradation</text>
<text transform="rotate(-90)" x="-490.33" y="464.80" font-size="15.4" textLength="139.40" lengthAdjust="spacingAndGlyphs" fill="#111">of c-3-glucoside (%)</text>
<polyline points="522.60,387.20 536.80,387.20 551.00,386.20 564.90,387.20 579.60,388.10 593.70,388.60 607.70,388.60 621.80,392.00 636.30,391.10 650.40,392.50" fill="none" stroke="#151515" stroke-width="1.1" stroke-linejoin="round"/>
<polyline points="522.60,387.20 536.80,398.20 551.00,404.30 564.90,408.20 579.60,412.30 593.70,414.80 607.70,416.50 621.80,418.90 636.30,418.90 650.40,419.20" fill="none" stroke="#151515" stroke-width="1.1" stroke-linejoin="round"/>
<circle cx="536.80" cy="387.20" r="4.6" fill="#080808" stroke="#080808" stroke-width="0.6"/>
<circle cx="551.00" cy="386.20" r="4.6" fill="#080808" stroke="#080808" stroke-width="0.6"/>
<circle cx="564.90" cy="387.20" r="4.6" fill="#080808" stroke="#080808" stroke-width="0.6"/>
<circle cx="579.60" cy="388.10" r="4.6" fill="#080808" stroke="#080808" stroke-width="0.6"/>
<circle cx="593.70" cy="388.60" r="4.6" fill="#080808" stroke="#080808" stroke-width="0.6"/>
<circle cx="607.70" cy="388.60" r="4.6" fill="#080808" stroke="#080808" stroke-width="0.6"/>
<circle cx="621.80" cy="392.00" r="4.6" fill="#080808" stroke="#080808" stroke-width="0.6"/>
<circle cx="636.30" cy="391.10" r="4.6" fill="#080808" stroke="#080808" stroke-width="0.6"/>
<circle cx="650.40" cy="392.50" r="4.6" fill="#080808" stroke="#080808" stroke-width="0.6"/>
<circle cx="522.60" cy="387.20" r="4.2" fill="#fff" stroke="#1a1a1a" stroke-width="1.2"/>
<circle cx="536.80" cy="398.20" r="4.2" fill="#fff" stroke="#1a1a1a" stroke-width="1.2"/>
<circle cx="551.00" cy="404.30" r="4.2" fill="#fff" stroke="#1a1a1a" stroke-width="1.2"/>
<circle cx="564.90" cy="408.20" r="4.2" fill="#fff" stroke="#1a1a1a" stroke-width="1.2"/>
<circle cx="579.60" cy="412.30" r="4.2" fill="#fff" stroke="#1a1a1a" stroke-width="1.2"/>
<circle cx="593.70" cy="414.80" r="4.2" fill="#fff" stroke="#1a1a1a" stroke-width="1.2"/>
<circle cx="607.70" cy="416.50" r="4.2" fill="#fff" stroke="#1a1a1a" stroke-width="1.2"/>
<circle cx="621.80" cy="418.90" r="4.2" fill="#fff" stroke="#1a1a1a" stroke-width="1.2"/>
<circle cx="636.30" cy="418.90" r="4.2" fill="#fff" stroke="#1a1a1a" stroke-width="1.2"/>
<circle cx="650.40" cy="419.20" r="4.2" fill="#fff" stroke="#1a1a1a" stroke-width="1.2"/>
<circle cx="524.60" cy="454.60" r="4.6" fill="#080808" stroke="#080808" stroke-width="0.6"/>
<circle cx="524.60" cy="474.20" r="4.3" fill="#fff" stroke="#1a1a1a" stroke-width="1.2"/>
<text x="550.84" y="459.30" font-size="15.4" textLength="27.86" lengthAdjust="spacingAndGlyphs" fill="#111">20C</text>
<text x="551.00" y="478.90" font-size="15.4" textLength="27.70" lengthAdjust="spacingAndGlyphs" fill="#111">35C</text>
<rect x="509.00" y="559.50" width="154.40" height="132.70" stroke="#2a2a2a" stroke-width="1.1" fill="none"/>
<line x1="509.00" y1="662.80" x2="515.50" y2="662.80" stroke="#2a2a2a" stroke-width="1.0"/>
<line x1="509.00" y1="633.30" x2="515.50" y2="633.30" stroke="#2a2a2a" stroke-width="1.0"/>
<line x1="509.00" y1="603.80" x2="515.50" y2="603.80" stroke="#2a2a2a" stroke-width="1.0"/>
<line x1="509.00" y1="574.30" x2="515.50" y2="574.30" stroke="#2a2a2a" stroke-width="1.0"/>
<line x1="522.60" y1="692.20" x2="522.60" y2="686.20" stroke="#2a2a2a" stroke-width="1.0"/>
<line x1="550.80" y1="692.20" x2="550.80" y2="686.20" stroke="#2a2a2a" stroke-width="1.0"/>
<line x1="579.00" y1="692.20" x2="579.00" y2="686.20" stroke="#2a2a2a" stroke-width="1.0"/>
<line x1="607.20" y1="692.20" x2="607.20" y2="686.20" stroke="#2a2a2a" stroke-width="1.0"/>
<line x1="635.40" y1="692.20" x2="635.40" y2="686.20" stroke="#2a2a2a" stroke-width="1.0"/>
<text x="479.36" y="579.10" font-size="15.4" textLength="21.41" lengthAdjust="spacingAndGlyphs" fill="#111">0.4</text>
<text x="479.51" y="608.60" font-size="15.4" textLength="21.41" lengthAdjust="spacingAndGlyphs" fill="#111">0.3</text>
<text x="479.66" y="638.10" font-size="15.4" textLength="21.41" lengthAdjust="spacingAndGlyphs" fill="#111">0.2</text>
<text x="479.59" y="667.60" font-size="15.4" textLength="21.41" lengthAdjust="spacingAndGlyphs" fill="#111">0. </text>
<path d="M515,0 L515,1237 L197,1010 L197,1180 L530,1409 L696,1409 L696,0 Z" transform="translate(492.430,667.600) scale(0.00752,-0.00752)" fill="#111" stroke="#111" stroke-width="47.88"/>
<text x="479.43" y="697.10" font-size="15.4" textLength="21.41" lengthAdjust="spacingAndGlyphs" fill="#111">0.0</text>
<text x="517.79" y="714.00" font-size="15.4" textLength="8.56" lengthAdjust="spacingAndGlyphs" fill="#111">0</text>
<text x="546.03" y="714.00" font-size="15.4" textLength="8.56" lengthAdjust="spacingAndGlyphs" fill="#111">2</text>
<text x="574.60" y="714.00" font-size="15.4" textLength="8.56" lengthAdjust="spacingAndGlyphs" fill="#111">4</text>
<text x="602.15" y="714.00" font-size="15.4" textLength="8.56" lengthAdjust="spacingAndGlyphs" fill="#111">6</text>
<text x="630.39" y="714.00" font-size="15.4" textLength="8.56" lengthAdjust="spacingAndGlyphs" fill="#111">8</text>
<text x="654.35" y="714.00" font-size="15.4" textLength="17.13" lengthAdjust="spacingAndGlyphs" fill="#111"> 0</text>
<path d="M515,0 L515,1237 L197,1010 L197,1180 L530,1409 L696,1409 L696,0 Z" transform="translate(654.345,714.000) scale(0.00752,-0.00752)" fill="#111" stroke="#111" stroke-width="47.88"/>
<text x="513.76" y="576.40" font-size="15.4" textLength="13.06" lengthAdjust="spacingAndGlyphs" fill="#111">G</text>
<text x="517.36" y="736.90" font-size="15.4" textLength="139.98" lengthAdjust="spacingAndGlyphs" fill="#111">Days after treatment</text>
<text transform="rotate(-90)" x="-692.83" y="449.20" font-size="15.4" textLength="134.47" lengthAdjust="spacingAndGlyphs" fill="#111">Protocatechuic acid</text>
<text transform="rotate(-90)" x="-679.52" y="468.20" font-size="15.4" textLength="63.14" lengthAdjust="spacingAndGlyphs" fill="#111">(mmol kg</text>
<text transform="rotate(-90)" x="-611.30" y="459.20" font-size="10.0" textLength="6.00" lengthAdjust="spacingAndGlyphs" fill="#111">- </text>
<path d="M515,0 L515,1237 L197,1010 L197,1180 L530,1409 L696,1409 L696,0 Z" transform="rotate(-90) translate(-609.056,459.200) scale(0.00330,-0.00488)" fill="#111" stroke="#111" stroke-width="73.73"/>
<text transform="rotate(-90)" x="-602.21" y="468.20" font-size="15.4" textLength="28.56" lengthAdjust="spacingAndGlyphs" fill="#111">FW)</text>
<polyline points="522.60,674.80 551.00,677.20 593.00,676.00 649.20,673.60" fill="none" stroke="#151515" stroke-width="1.1" stroke-linejoin="round"/>
<polyline points="522.60,674.80 551.00,667.00 593.00,662.60 649.20,606.30" fill="none" stroke="#151515" stroke-width="1.1" stroke-linejoin="round"/>
<line x1="649.20" y1="594.90" x2="649.20" y2="618.40" stroke="#151515" stroke-width="1.2"/>
<line x1="645.60" y1="594.90" x2="652.80" y2="594.90" stroke="#151515" stroke-width="1.2"/>
<line x1="645.60" y1="618.40" x2="652.80" y2="618.40" stroke="#151515" stroke-width="1.2"/>
<circle cx="551.00" cy="677.20" r="4.6" fill="#1a1212" stroke="#1a1212" stroke-width="0.6"/>
<circle cx="593.00" cy="676.00" r="4.6" fill="#1a1212" stroke="#1a1212" stroke-width="0.6"/>
<circle cx="649.20" cy="673.60" r="4.6" fill="#1a1212" stroke="#1a1212" stroke-width="0.6"/>
<circle cx="522.60" cy="674.80" r="4.5" fill="#fff" stroke="#1a1a1a" stroke-width="1.2"/>
<circle cx="551.00" cy="667.00" r="4.5" fill="#fff" stroke="#1a1a1a" stroke-width="1.2"/>
<circle cx="593.00" cy="662.60" r="4.5" fill="#fff" stroke="#1a1a1a" stroke-width="1.2"/>
<circle cx="649.20" cy="606.30" r="4.5" fill="#fff" stroke="#1a1a1a" stroke-width="1.2"/>
<text x="548.50" y="663.60" font-size="12.5" fill="#111">*</text>
<text x="589.20" y="658.60" font-size="12.5" fill="#111">*</text>
<text x="647.00" y="593.80" font-size="12.5" fill="#111">*</text>
<circle cx="560.70" cy="573.30" r="4.6" fill="#1a1212" stroke="#1a1212" stroke-width="0.6"/>
<circle cx="560.70" cy="592.90" r="4.6" fill="#fff" stroke="#1a1a1a" stroke-width="1.2"/>
<text x="586.69" y="578.00" font-size="15.4" textLength="26.39" lengthAdjust="spacingAndGlyphs" fill="#111">T20</text>
<text x="586.69" y="597.60" font-size="15.4" textLength="26.47" lengthAdjust="spacingAndGlyphs" fill="#111">T35</text>
</svg></body></html>
